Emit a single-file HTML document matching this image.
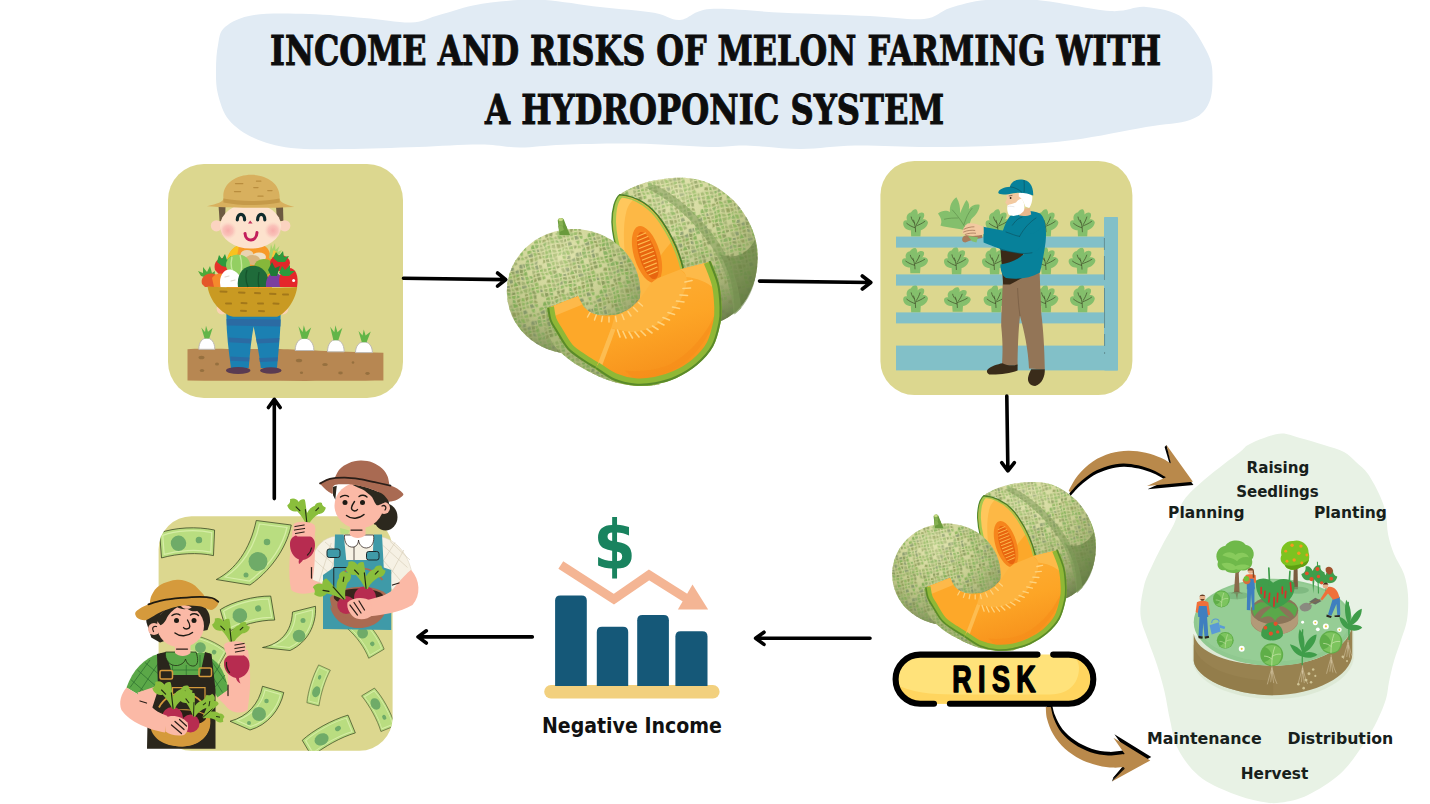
<!DOCTYPE html>
<html lang="en">
<head>
<meta charset="utf-8">
<title>Income and Risks of Melon Farming with a Hydroponic System</title>
<style>
html,body{margin:0;padding:0;background:#fff;}
body{width:1430px;height:804px;overflow:hidden;position:relative;font-family:"Liberation Sans",sans-serif;}
svg{position:absolute;left:0;top:0;display:block;}
.title{font-family:"DejaVu Serif Condensed","DejaVu Serif","Liberation Serif",serif;font-weight:bold;font-size:41px;fill:#0d0d0d;stroke:#0d0d0d;stroke-width:0.9px;}
.lbl{font-family:"DejaVu Sans Condensed","DejaVu Sans","Liberation Sans",sans-serif;font-weight:bold;fill:#1a1a1a;}
</style>
</head>
<body>
<svg width="1430" height="804" viewBox="0 0 1430 804">
<defs>
<pattern id="net" width="231" height="231" patternUnits="userSpaceOnUse" patternTransform="rotate(-12)"><path d="M1.1 -0.5 L11.6 2.5 L14.8 12.5 L3.4 10.4Z" fill="#93b862"/><path d="M3.8 15.1 L15.3 17.2 L14.7 26.7 L3.0 28.8Z" fill="#8ab55a"/><path d="M-1.9 51.4 L10.3 49.2 L14.9 63.0 L-2.0 63.1Z" fill="#9ab368"/><path d="M-1.1 67.9 L14.2 67.9 L11.8 79.9 L-0.9 76.6Z" fill="#9ab368"/><path d="M-1.9 81.0 L12.8 84.9 L13.9 95.5 L0.8 99.6Z" fill="#879a5a"/><path d="M1.5 103.6 L13.8 99.7 L16.4 114.8 L-0.7 111.3Z" fill="#8ab55a"/><path d="M-0.5 116.2 L16.1 119.6 L12.2 130.5 L3.1 133.1Z" fill="#86b060"/><path d="M3.8 138.5 L11.9 136.2 L13.7 148.7 L3.4 145.6Z" fill="#84986a"/><path d="M2.7 149.2 L15.4 153.0 L17.1 161.4 L5.9 159.5Z" fill="#8e9e58"/><path d="M7.4 163.9 L16.4 165.4 L18.0 175.0 L6.6 176.1Z" fill="#8e9e58"/><path d="M-0.8 197.9 L12.7 202.4 L10.9 212.1 L0.4 214.4Z" fill="#a0b070"/><path d="M0.0 219.0 L11.1 216.5 L11.4 229.5 L0.1 226.3Z" fill="#8ab55a"/><path d="M0.0 -12.0 L11.1 -14.5 L11.4 -1.5 L0.1 -4.7Z" fill="#8ab55a"/><path d="M16.9 3.6 L26.8 4.1 L31.6 14.3 L19.9 13.0Z" fill="#93b862"/><path d="M19.9 32.4 L32.6 34.0 L31.5 46.4 L16.8 43.9Z" fill="#8e9e58"/><path d="M16.5 50.2 L31.4 52.7 L30.7 62.6 L20.6 62.4Z" fill="#93b862"/><path d="M20.2 67.8 L31.8 68.0 L33.7 84.0 L17.5 81.3Z" fill="#8cb860"/><path d="M17.7 85.9 L33.0 88.4 L30.4 98.1 L18.7 95.5Z" fill="#86b060"/><path d="M18.8 100.7 L29.9 103.2 L27.1 114.4 L21.0 114.4Z" fill="#93b862"/><path d="M21.1 120.6 L27.0 120.6 L30.8 133.1 L17.5 130.4Z" fill="#a0b070"/><path d="M16.9 135.2 L32.1 138.3 L33.4 145.2 L19.0 149.6Z" fill="#a0b070"/><path d="M19.8 153.9 L32.7 150.0 L29.8 163.4 L21.2 160.9Z" fill="#a0b070"/><path d="M20.5 165.4 L30.0 168.1 L27.4 178.7 L22.3 176.2Z" fill="#8ab55a"/><path d="M21.9 180.1 L27.2 182.8 L28.3 192.9 L17.5 197.8Z" fill="#8e9e58"/><path d="M15.0 216.9 L26.6 218.9 L26.4 230.4 L15.2 229.8Z" fill="#9ab368"/><path d="M15.0 -14.1 L26.6 -12.1 L26.4 -0.6 L15.2 -1.2Z" fill="#9ab368"/><path d="M30.9 3.4 L44.4 0.1 L46.4 17.7 L36.5 15.4Z" fill="#8ab55a"/><path d="M37.2 19.3 L46.6 21.5 L44.3 30.6 L38.0 29.6Z" fill="#86b060"/><path d="M38.3 34.5 L44.2 35.5 L47.4 49.7 L37.1 47.7Z" fill="#7fae55"/><path d="M36.9 52.7 L48.3 54.9 L50.3 67.3 L36.0 64.2Z" fill="#a0b070"/><path d="M36.8 69.1 L49.2 71.8 L45.6 79.7 L38.5 83.1Z" fill="#86b060"/><path d="M35.3 103.1 L45.8 104.6 L49.9 110.8 L32.5 114.6Z" fill="#8e9e58"/><path d="M32.6 119.6 L49.8 115.9 L44.5 127.6 L36.5 132.7Z" fill="#86b060"/><path d="M36.3 137.9 L44.8 132.4 L45.2 146.1 L37.5 144.6Z" fill="#86b060"/><path d="M37.3 148.4 L45.7 150.0 L48.4 161.2 L33.9 164.4Z" fill="#8ab55a"/><path d="M33.7 168.3 L47.4 165.3 L43.0 178.6 L31.0 178.9Z" fill="#7fae55"/><path d="M30.7 183.1 L42.7 182.8 L45.4 196.0 L31.8 192.7Z" fill="#879a5a"/><path d="M32.4 197.4 L46.1 200.7 L50.4 213.9 L31.6 214.4Z" fill="#86b060"/><path d="M32.3 219.5 L48.8 219.0 L43.5 226.8 L32.2 229.5Z" fill="#7fae55"/><path d="M32.3 -11.5 L48.8 -12.0 L43.5 -4.2 L32.2 -1.5Z" fill="#7fae55"/><path d="M48.6 0.0 L63.9 2.8 L65.1 11.0 L50.6 17.1Z" fill="#879a5a"/><path d="M50.7 21.4 L65.3 15.3 L67.0 33.2 L48.4 30.7Z" fill="#86b060"/><path d="M49.1 35.6 L66.8 38.0 L66.6 49.9 L52.5 50.5Z" fill="#a0b070"/><path d="M53.1 55.6 L66.3 55.0 L63.1 63.4 L54.9 66.5Z" fill="#86b060"/><path d="M54.1 71.6 L62.0 68.6 L60.1 80.7 L50.7 79.3Z" fill="#a0b070"/><path d="M48.8 83.5 L60.5 85.3 L60.2 93.9 L49.5 100.4Z" fill="#879a5a"/><path d="M50.7 103.6 L60.2 97.9 L61.2 110.1 L54.9 110.0Z" fill="#8e9e58"/><path d="M55.1 114.9 L61.0 114.9 L61.8 125.0 L50.0 126.2Z" fill="#a0b070"/><path d="M48.9 131.9 L61.3 130.7 L59.0 142.6 L49.3 144.9Z" fill="#8cb860"/><path d="M48.7 149.8 L59.6 147.3 L60.4 161.6 L51.5 160.9Z" fill="#7fae55"/><path d="M51.4 165.2 L60.2 166.0 L59.6 182.2 L47.0 178.8Z" fill="#86b060"/><path d="M47.7 183.4 L59.5 186.6 L63.6 193.1 L50.3 196.0Z" fill="#86b060"/><path d="M50.7 200.4 L64.9 197.3 L62.2 211.1 L55.1 213.7Z" fill="#93b862"/><path d="M55.0 218.2 L61.7 215.8 L63.6 229.3 L49.2 226.7Z" fill="#7fae55"/><path d="M55.0 -12.8 L61.7 -15.2 L63.6 -1.7 L49.2 -4.3Z" fill="#7fae55"/><path d="M69.9 15.3 L83.7 22.4 L80.8 31.1 L71.6 33.3Z" fill="#7fae55"/><path d="M71.1 37.0 L80.7 34.7 L77.7 44.7 L70.9 50.2Z" fill="#8ab55a"/><path d="M70.6 53.4 L77.3 47.9 L79.3 62.1 L66.8 63.2Z" fill="#84986a"/><path d="M67.9 67.8 L78.3 66.9 L81.5 76.9 L66.0 80.0Z" fill="#8cb860"/><path d="M65.4 86.1 L80.9 83.0 L75.7 98.9 L65.2 93.1Z" fill="#879a5a"/><path d="M63.8 97.1 L76.3 104.0 L80.2 110.5 L64.9 110.7Z" fill="#8ab55a"/><path d="M65.4 113.8 L80.6 113.7 L80.8 125.6 L66.4 125.8Z" fill="#93b862"/><path d="M67.1 131.0 L79.7 130.8 L79.6 148.5 L64.8 142.9Z" fill="#a0b070"/><path d="M64.7 148.8 L79.7 154.5 L82.1 163.9 L65.4 161.7Z" fill="#9ab368"/><path d="M64.3 165.9 L83.1 168.5 L78.4 178.8 L63.7 182.8Z" fill="#9ab368"/><path d="M63.5 186.3 L78.4 182.3 L77.6 198.5 L68.2 193.6Z" fill="#a0b070"/><path d="M69.1 198.4 L77.2 202.6 L79.7 213.7 L66.7 210.8Z" fill="#9ab368"/><path d="M66.4 215.7 L80.1 218.8 L78.9 225.8 L68.2 229.4Z" fill="#879a5a"/><path d="M66.4 -15.3 L80.1 -12.2 L78.9 -5.2 L68.2 -1.6Z" fill="#879a5a"/><path d="M84.1 -0.1 L95.7 0.6 L99.2 17.9 L87.6 17.9Z" fill="#a0b070"/><path d="M88.4 23.6 L99.1 23.6 L99.4 33.3 L85.9 31.2Z" fill="#84986a"/><path d="M85.0 35.6 L99.0 37.8 L98.8 48.6 L82.4 44.3Z" fill="#879a5a"/><path d="M81.6 48.9 L98.4 53.3 L94.3 63.4 L83.4 61.6Z" fill="#86b060"/><path d="M83.4 65.8 L94.6 67.7 L95.5 76.1 L87.0 77.1Z" fill="#93b862"/><path d="M80.6 104.6 L92.5 99.8 L94.1 114.6 L84.2 110.7Z" fill="#a0b070"/><path d="M85.6 115.2 L94.9 118.9 L99.6 128.4 L85.7 125.6Z" fill="#86b060"/><path d="M85.9 131.4 L100.5 134.4 L100.4 149.9 L85.8 149.8Z" fill="#8e9e58"/><path d="M86.6 155.4 L100.1 155.4 L100.2 162.2 L88.8 164.3Z" fill="#7fae55"/><path d="M87.8 168.6 L99.8 166.3 L94.8 176.8 L83.6 177.8Z" fill="#8cb860"/><path d="M81.5 202.3 L94.6 197.9 L97.9 216.2 L84.3 215.2Z" fill="#a0b070"/><path d="M85.3 219.1 L97.0 219.9 L95.0 226.5 L84.2 225.8Z" fill="#8ab55a"/><path d="M85.3 -11.9 L97.0 -11.1 L95.0 -4.5 L84.2 -5.2Z" fill="#8ab55a"/><path d="M100.5 0.7 L116.1 2.5 L114.7 16.7 L104.0 18.0Z" fill="#84986a"/><path d="M104.2 23.6 L114.0 22.3 L110.3 32.3 L104.5 33.3Z" fill="#8e9e58"/><path d="M104.7 38.7 L110.5 37.8 L115.9 49.4 L104.5 49.1Z" fill="#9ab368"/><path d="M104.2 54.0 L116.5 54.3 L115.3 63.8 L100.0 64.1Z" fill="#879a5a"/><path d="M98.5 67.9 L115.3 67.6 L110.9 82.8 L99.5 76.9Z" fill="#8ab55a"/><path d="M99.9 82.1 L109.6 87.1 L110.7 98.1 L97.7 94.7Z" fill="#86b060"/><path d="M96.7 99.0 L112.3 103.2 L117.3 113.1 L98.6 115.4Z" fill="#7fae55"/><path d="M100.2 119.7 L116.8 117.6 L112.8 133.0 L105.1 129.5Z" fill="#a0b070"/><path d="M105.0 133.7 L113.5 137.6 L116.0 144.4 L104.8 150.8Z" fill="#8e9e58"/><path d="M104.7 154.0 L115.7 147.7 L111.1 160.2 L104.9 161.8Z" fill="#93b862"/><path d="M104.7 166.0 L110.7 164.4 L116.3 181.1 L99.4 176.9Z" fill="#86b060"/><path d="M99.6 182.6 L114.8 186.4 L109.9 197.3 L99.4 193.3Z" fill="#8ab55a"/><path d="M98.6 198.0 L110.8 202.8 L117.2 214.1 L101.9 216.0Z" fill="#8ab55a"/><path d="M102.5 219.8 L117.4 218.0 L116.4 228.9 L100.3 227.0Z" fill="#93b862"/><path d="M102.5 -11.2 L117.4 -13.0 L116.4 -2.1 L100.3 -4.0Z" fill="#93b862"/><path d="M120.1 1.9 L128.7 2.4 L127.1 10.7 L118.8 16.5Z" fill="#9ab368"/><path d="M118.6 20.9 L127.1 15.0 L133.4 32.2 L114.3 32.2Z" fill="#7fae55"/><path d="M115.6 37.5 L133.1 37.4 L130.0 50.7 L121.3 49.7Z" fill="#8e9e58"/><path d="M121.3 54.7 L130.2 55.8 L129.5 66.9 L120.2 64.2Z" fill="#8cb860"/><path d="M120.2 69.1 L128.8 71.7 L131.3 78.0 L116.6 81.7Z" fill="#86b060"/><path d="M115.6 87.2 L131.3 83.2 L127.4 95.1 L116.6 98.5Z" fill="#8e9e58"/><path d="M116.5 103.6 L127.7 99.9 L127.7 113.8 L121.1 112.5Z" fill="#8e9e58"/><path d="M121.4 118.1 L127.3 119.3 L127.4 128.9 L117.7 132.3Z" fill="#879a5a"/><path d="M117.3 138.2 L127.1 134.8 L126.3 148.7 L119.4 143.9Z" fill="#9ab368"/><path d="M119.3 148.9 L126.2 153.8 L127.6 161.6 L115.4 159.6Z" fill="#9ab368"/><path d="M114.3 164.2 L129.1 166.6 L130.9 183.1 L120.4 182.3Z" fill="#8ab55a"/><path d="M120.6 186.8 L130.6 187.5 L129.4 200.0 L114.9 199.3Z" fill="#84986a"/><path d="M114.9 203.1 L129.4 203.8 L130.0 213.3 L121.2 214.2Z" fill="#879a5a"/><path d="M121.5 217.8 L130.4 216.9 L129.3 229.5 L120.5 229.0Z" fill="#8e9e58"/><path d="M121.5 -13.2 L130.4 -14.1 L129.3 -1.5 L120.5 -2.0Z" fill="#8e9e58"/><path d="M132.9 1.8 L146.0 -2.0 L145.4 11.0 L131.3 9.8Z" fill="#8e9e58"/><path d="M131.8 15.6 L145.1 16.7 L142.1 32.1 L137.5 31.1Z" fill="#879a5a"/><path d="M137.6 37.5 L142.1 38.5 L143.2 47.2 L134.7 50.3Z" fill="#8cb860"/><path d="M134.8 55.8 L143.5 52.7 L147.2 64.3 L134.2 66.5Z" fill="#9ab368"/><path d="M136.6 82.4 L145.0 84.7 L146.7 98.8 L132.3 95.2Z" fill="#8ab55a"/><path d="M132.3 100.5 L145.5 103.8 L142.5 113.4 L132.3 113.6Z" fill="#93b862"/><path d="M131.7 118.4 L142.5 118.2 L143.5 127.9 L131.9 128.9Z" fill="#93b862"/><path d="M132.3 134.0 L143.8 133.0 L147.5 146.2 L131.4 149.0Z" fill="#84986a"/><path d="M131.1 154.0 L148.4 150.9 L146.9 165.4 L132.8 163.1Z" fill="#93b862"/><path d="M133.8 167.7 L146.7 169.8 L149.1 179.0 L135.4 182.2Z" fill="#a0b070"/><path d="M133.5 203.6 L147.3 200.5 L146.5 214.3 L134.1 213.1Z" fill="#84986a"/><path d="M133.6 216.3 L146.9 217.6 L147.0 225.4 L132.4 229.6Z" fill="#7fae55"/><path d="M133.6 -14.7 L146.9 -13.4 L147.0 -5.6 L132.4 -1.4Z" fill="#7fae55"/><path d="M151.5 -0.4 L161.6 2.9 L161.8 16.1 L151.0 11.2Z" fill="#84986a"/><path d="M150.2 17.3 L162.2 22.6 L163.7 33.8 L147.1 33.3Z" fill="#a0b070"/><path d="M146.2 37.3 L164.8 37.9 L166.7 46.1 L147.5 47.8Z" fill="#84986a"/><path d="M148.2 51.4 L166.7 49.8 L163.7 67.6 L152.4 64.6Z" fill="#9ab368"/><path d="M153.2 69.4 L162.9 71.9 L164.8 77.4 L150.6 79.9Z" fill="#8e9e58"/><path d="M149.6 85.0 L164.8 82.4 L159.8 96.0 L151.2 98.4Z" fill="#8e9e58"/><path d="M150.5 103.5 L159.0 101.2 L158.6 111.2 L147.4 113.4Z" fill="#86b060"/><path d="M147.6 118.6 L158.0 116.5 L158.0 129.9 L148.5 127.4Z" fill="#9ab368"/><path d="M153.4 152.2 L164.2 154.7 L160.1 164.3 L152.0 164.6Z" fill="#879a5a"/><path d="M154.4 183.3 L164.7 181.1 L166.4 199.3 L152.2 195.9Z" fill="#84986a"/><path d="M151.2 200.3 L166.4 204.0 L161.2 217.0 L150.4 214.9Z" fill="#879a5a"/><path d="M150.4 218.1 L160.7 220.0 L162.5 229.4 L150.5 225.5Z" fill="#879a5a"/><path d="M150.4 -12.9 L160.7 -11.0 L162.5 -1.6 L150.5 -5.5Z" fill="#879a5a"/><path d="M167.5 3.4 L178.5 3.1 L182.5 16.8 L167.7 17.6Z" fill="#8cb860"/><path d="M166.8 22.3 L183.8 21.5 L177.3 31.3 L168.5 34.8Z" fill="#7fae55"/><path d="M169.5 38.3 L176.7 35.4 L178.9 45.4 L171.1 44.9Z" fill="#86b060"/><path d="M170.5 49.6 L179.7 50.2 L177.3 62.5 L167.6 67.2Z" fill="#9ab368"/><path d="M167.6 71.0 L177.4 66.2 L181.5 76.6 L169.7 77.5Z" fill="#86b060"/><path d="M170.2 82.1 L180.4 81.3 L179.3 95.0 L165.5 95.0Z" fill="#8ab55a"/><path d="M163.3 100.2 L179.3 100.1 L175.2 112.0 L162.9 111.3Z" fill="#93b862"/><path d="M163.2 115.6 L175.0 116.3 L179.4 129.8 L163.2 130.9Z" fill="#84986a"/><path d="M164.0 136.3 L179.7 135.2 L175.7 150.4 L169.1 149.7Z" fill="#8cb860"/><path d="M169.5 155.3 L175.6 155.9 L180.3 166.6 L165.4 164.9Z" fill="#93b862"/><path d="M168.7 182.3 L175.7 183.0 L175.3 197.0 L170.1 198.2Z" fill="#84986a"/><path d="M169.8 204.6 L175.2 203.3 L176.7 210.0 L165.4 215.4Z" fill="#7fae55"/><path d="M164.1 219.8 L177.7 213.3 L178.7 229.3 L166.0 229.7Z" fill="#7fae55"/><path d="M164.1 -11.2 L177.7 -17.7 L178.7 -1.7 L166.0 -1.3Z" fill="#7fae55"/><path d="M184.0 3.0 L195.3 5.9 L198.0 12.6 L188.0 16.4Z" fill="#86b060"/><path d="M187.6 21.8 L197.5 18.0 L193.0 33.4 L182.1 30.2Z" fill="#86b060"/><path d="M180.8 34.9 L192.9 38.5 L196.0 49.1 L183.4 46.4Z" fill="#a0b070"/><path d="M183.1 49.8 L196.3 52.6 L192.6 60.4 L180.6 62.4Z" fill="#7fae55"/><path d="M180.9 65.9 L192.7 63.9 L197.3 79.3 L185.0 76.2Z" fill="#879a5a"/><path d="M185.4 81.1 L197.2 84.1 L192.7 99.9 L184.1 96.2Z" fill="#879a5a"/><path d="M184.0 101.7 L191.8 105.1 L195.6 115.2 L180.4 112.1Z" fill="#8e9e58"/><path d="M180.4 117.4 L195.7 120.6 L192.0 132.2 L184.5 129.8Z" fill="#8cb860"/><path d="M180.7 155.4 L191.9 154.5 L194.5 162.2 L185.6 166.5Z" fill="#a0b070"/><path d="M186.0 171.3 L194.9 167.0 L195.6 182.1 L181.4 177.7Z" fill="#86b060"/><path d="M179.5 181.3 L196.2 186.6 L194.0 193.4 L179.0 198.6Z" fill="#86b060"/><path d="M179.2 201.6 L193.9 196.5 L195.9 210.3 L181.0 209.4Z" fill="#86b060"/><path d="M199.6 5.0 L208.8 -0.1 L208.4 11.5 L202.3 11.9Z" fill="#8e9e58"/><path d="M202.1 16.7 L208.6 16.3 L210.5 29.2 L197.2 33.7Z" fill="#8e9e58"/><path d="M196.9 38.2 L211.2 33.3 L214.7 46.2 L200.2 49.5Z" fill="#93b862"/><path d="M200.8 52.7 L213.9 49.8 L212.1 60.8 L197.4 59.9Z" fill="#8ab55a"/><path d="M197.8 64.8 L211.3 65.6 L210.3 75.4 L201.7 78.0Z" fill="#8cb860"/><path d="M196.4 136.9 L209.7 134.0 L215.3 143.7 L196.3 149.4Z" fill="#8ab55a"/><path d="M196.7 153.0 L216.1 147.2 L215.2 162.4 L199.7 161.7Z" fill="#84986a"/><path d="M200.7 167.1 L214.2 167.7 L212.0 181.5 L201.3 182.1Z" fill="#8e9e58"/><path d="M201.0 187.5 L211.3 186.9 L210.6 195.5 L199.2 193.0Z" fill="#86b060"/><path d="M199.3 198.4 L210.8 200.8 L212.7 214.6 L201.0 209.8Z" fill="#9ab368"/><path d="M200.1 214.8 L213.6 220.4 L209.3 226.6 L199.4 232.2Z" fill="#a0b070"/><path d="M200.1 -16.2 L213.6 -10.6 L209.3 -4.4 L199.4 1.2Z" fill="#a0b070"/><path d="M214.0 -0.6 L226.2 -0.7 L228.4 9.6 L213.7 10.5Z" fill="#879a5a"/><path d="M-17.0 -0.6 L-4.8 -0.7 L-2.6 9.6 L-17.3 10.5Z" fill="#879a5a"/><path d="M213.4 16.0 L229.3 15.1 L228.5 28.8 L215.3 28.4Z" fill="#879a5a"/><path d="M-17.6 16.0 L-1.7 15.1 L-2.5 28.8 L-15.7 28.4Z" fill="#879a5a"/><path d="M218.1 49.5 L225.3 51.2 L225.1 63.2 L216.1 61.2Z" fill="#9ab368"/><path d="M-12.9 49.5 L-5.7 51.2 L-5.9 63.2 L-14.9 61.2Z" fill="#9ab368"/><path d="M216.2 65.2 L224.5 67.0 L224.8 76.2 L215.1 75.7Z" fill="#84986a"/><path d="M-14.8 65.2 L-6.5 67.0 L-6.2 76.2 L-15.9 75.7Z" fill="#84986a"/><path d="M214.9 80.4 L225.1 80.9 L227.7 98.6 L214.2 92.6Z" fill="#9ab368"/><path d="M-16.1 80.4 L-5.9 80.9 L-3.3 98.6 L-16.8 92.6Z" fill="#9ab368"/><path d="M217.9 117.8 L226.1 115.2 L230.0 133.8 L213.7 130.1Z" fill="#7fae55"/><path d="M-13.1 117.8 L-4.9 115.2 L-1.0 133.8 L-17.3 130.1Z" fill="#7fae55"/><path d="M215.0 134.2 L229.7 137.5 L229.4 145.3 L220.2 143.2Z" fill="#86b060"/><path d="M-16.0 134.2 L-1.3 137.5 L-1.6 145.3 L-10.8 143.2Z" fill="#86b060"/><path d="M220.5 146.8 L230.4 149.1 L233.5 159.0 L219.7 161.9Z" fill="#8ab55a"/><path d="M-10.5 146.8 L-0.6 149.1 L2.5 159.0 L-11.3 161.9Z" fill="#8ab55a"/><path d="M219.8 166.5 L233.0 163.7 L232.1 177.5 L217.5 181.4Z" fill="#9ab368"/><path d="M-11.2 166.5 L2.0 163.7 L1.1 177.5 L-13.5 181.4Z" fill="#9ab368"/><path d="M217.2 186.3 L230.4 182.8 L225.7 192.4 L216.6 195.0Z" fill="#84986a"/><path d="M-13.8 186.3 L-0.6 182.8 L-5.3 192.4 L-14.4 195.0Z" fill="#84986a"/><path d="M215.4 200.3 L226.0 197.4 L227.3 215.2 L217.6 216.4Z" fill="#84986a"/><path d="M-15.6 200.3 L-5.0 197.4 L-3.7 215.2 L-13.4 216.4Z" fill="#84986a"/><path d="M217.9 220.5 L226.6 219.3 L226.7 226.1 L214.0 226.2Z" fill="#7fae55"/><path d="M-13.1 220.5 L-4.4 219.3 L-4.3 226.1 L-17.0 226.2Z" fill="#7fae55"/><path d="M217.9 -10.5 L226.6 -11.7 L226.7 -4.9 L214.0 -4.8Z" fill="#7fae55"/><path d="M-13.1 -10.5 L-4.4 -11.7 L-4.3 -4.9 L-17.0 -4.8Z" fill="#7fae55"/></pattern><radialGradient id="mbl" cx="0.4" cy="0.2" r="0.85">
<stop offset="0" stop-color="#dfe2ac"/><stop offset="0.45" stop-color="#cdd396"/><stop offset="0.8" stop-color="#b4bd80"/><stop offset="1" stop-color="#9aa56c"/>
</radialGradient>
<radialGradient id="mwl" cx="0.4" cy="0.22" r="0.85">
<stop offset="0" stop-color="#e3e6b2" stop-opacity="0.45"/><stop offset="0.3" stop-color="#d8dca8" stop-opacity="0.1"/><stop offset="0.6" stop-color="#8a9862" stop-opacity="0.12"/><stop offset="1" stop-color="#66784a" stop-opacity="0.7"/>
</radialGradient>
<radialGradient id="mbr" cx="0.4" cy="0.1" r="0.95">
<stop offset="0" stop-color="#dfe2ac"/><stop offset="0.45" stop-color="#cdd396"/><stop offset="0.8" stop-color="#b0b97c"/><stop offset="1" stop-color="#949f66"/>
</radialGradient>
<radialGradient id="mwr" cx="0.4" cy="0.1" r="0.95">
<stop offset="0" stop-color="#e3e6b2" stop-opacity="0.45"/><stop offset="0.35" stop-color="#d8dca8" stop-opacity="0.1"/><stop offset="0.7" stop-color="#8a9862" stop-opacity="0.25"/><stop offset="1" stop-color="#5f7244" stop-opacity="0.75"/>
</radialGradient>
<linearGradient id="fleshB" x1="0" y1="0" x2="0.3" y2="1">
<stop offset="0" stop-color="#fdb13a"/><stop offset="0.6" stop-color="#fda526"/><stop offset="1" stop-color="#f7921c"/>
</linearGradient>
<g id="melon">
<!-- big cut melon -->
<path d="M640 90 C670 66 740 38 800 30 C850 22 900 20 950 30 C1010 44 1060 80 1100 120 C1150 175 1180 240 1188 300 C1196 370 1185 430 1160 480 C1130 545 1085 580 1035 600 L880 600 L880 385 C870 300 800 170 700 100 Z" fill="url(#mbr)"/>
<path id="bigm" d="M640 90 C670 66 740 38 800 30 C850 22 900 20 950 30 C1010 44 1060 80 1100 120 C1150 175 1180 240 1188 300 C1196 370 1185 430 1160 480 C1130 545 1085 580 1035 600 L880 600 L880 385 C870 300 800 170 700 100 Z" fill="url(#net)"/>
<path d="M640 90 C670 66 740 38 800 30 C850 22 900 20 950 30 C1010 44 1060 80 1100 120 C1150 175 1180 240 1188 300 C1196 370 1185 430 1160 480 C1130 545 1085 580 1035 600 L880 600 L880 385 C870 300 800 170 700 100 Z" fill="url(#mwr)"/>
<path d="M1040 330 C1080 400 1100 480 1098 570 C1130 545 1160 500 1175 450 C1192 390 1192 330 1180 270 C1150 330 1100 350 1040 330 Z" fill="#5f7a3e" opacity="0.55"/>
<path d="M740 62 C830 100 930 190 1000 290 C1050 360 1085 450 1095 570 L1125 545 C1115 440 1080 350 1030 275 C960 175 860 85 775 50 Z" fill="#7f9a5a" opacity="0.55"/>
<!-- cut face -->
<path d="M640 90 C620 105 608 150 608 200 C610 260 630 330 660 400 C680 450 700 500 740 540 L800 540 L893 385 C880 330 850 260 810 200 C770 140 710 96 640 90 Z" fill="#fdb845"/>
<path d="M640 100 C626 120 618 160 620 205 C624 260 640 320 665 370 C655 300 650 220 665 160 C672 130 690 112 700 106 C680 98 655 96 640 100 Z" fill="#ffcb62" opacity="0.8"/>
<path d="M790 520 L893 385 C885 350 870 310 850 275 C830 300 800 330 790 360 C780 420 780 470 790 520 Z" fill="#fca82a"/>
<path d="M646 96 C628 110 618 150 618 200 C620 260 638 330 668 400" fill="none" stroke="#a4c84e" stroke-width="12"/><path d="M640 90 C620 105 608 150 608 200 C610 260 630 330 660 400" fill="none" stroke="#4f8a2c" stroke-width="6"/>
<path d="M640 98 C706 104 764 146 802 204 C842 264 872 332 885 389" fill="none" stroke="#a4c84e" stroke-width="7"/><path d="M638 91 C710 96 770 140 810 200 C850 260 880 330 893 387" fill="none" stroke="#4a7f28" stroke-width="7"/>
<!-- seed cavity -->
<g transform="rotate(-17 748 330)">
<ellipse cx="748" cy="330" rx="52" ry="118" fill="#f6851c"/>
<ellipse cx="750" cy="335" rx="34" ry="98" fill="#e8650f"/>
<g stroke="#fdbb4e" stroke-width="4.5" stroke-linecap="round">
<path d="M732 250 L768 246"/><path d="M728 266 L772 262"/><path d="M726 282 L774 278"/><path d="M725 298 L775 294"/><path d="M724 314 L776 310"/><path d="M724 330 L776 326"/><path d="M724 346 L776 342"/><path d="M725 362 L775 358"/><path d="M726 378 L774 374"/><path d="M728 394 L772 390"/><path d="M732 410 L768 406"/>
</g>
</g>
<!-- whole melon -->
<path d="M398 250 L391 194 C391 182 412 180 416 192 L438 250 Z" fill="#6a9a3c"/>
<path d="M395 196 C395 186 408 186 410 194 L416 232 L402 244 Z" fill="#86b152"/>
<ellipse cx="402.5" cy="190" rx="9.5" ry="6" fill="#c9dc86"/>
<ellipse cx="454" cy="478" rx="267" ry="250" fill="url(#mbl)"/>
<ellipse cx="454" cy="478" rx="267" ry="250" fill="url(#net)"/>
<ellipse cx="454" cy="478" rx="267" ry="250" fill="url(#mwl)"/>
<ellipse cx="420" cy="248" rx="40" ry="9" fill="#a9c47a" opacity="0.7"/>
<path d="M398 252 L394 215 L424 215 L440 252 Z" fill="#6a9a3c"/><path d="M397 240 L395 215 L410 215 L416 232 Z" fill="#86b152"/>
<!-- skin under slices -->
<path d="M346 556 C346.0 566.7 341.2 597.7 346 620 C350.8 642.3 361.0 669.2 375 690 C389.0 710.8 409.2 728.3 430 745 C450.8 761.7 475.0 776.2 500 790 C525.0 803.8 553.3 818.0 580 828 C606.7 838.0 633.3 845.3 660 850 C686.7 854.7 716.7 856.0 740 856 C763.3 856.0 790.0 851.0 800 850 L548 775 L362 540 Z" fill="#c3ca8c"/>
<path d="M346 556 C346.0 566.7 341.2 597.7 346 620 C350.8 642.3 361.0 669.2 375 690 C389.0 710.8 409.2 728.3 430 745 C450.8 761.7 475.0 776.2 500 790 C525.0 803.8 553.3 818.0 580 828 C606.7 838.0 633.3 845.3 660 850 C686.7 854.7 716.7 856.0 740 856 C763.3 856.0 790.0 851.0 800 850 L548 775 L362 540 Z" fill="url(#net)"/>
<path d="M346 556 C346.0 566.7 341.2 597.7 346 620 C350.8 642.3 361.0 669.2 375 690 C389.0 710.8 409.2 728.3 430 745 C450.8 761.7 475.0 776.2 500 790 C525.0 803.8 553.3 818.0 580 828 C606.7 838.0 633.3 845.3 660 850 C686.7 854.7 716.7 856.0 740 856 C763.3 856.0 790.0 851.0 800 850 L548 775 L362 540 Z" fill="#7f9656" opacity="0.35"/>
<!-- slices silhouette -->
<path d="M362 540 L472 497 C476.7 505.0 487.0 532.5 500 545 C513.0 557.5 530.0 567.5 550 572 C570.0 576.5 598.3 576.5 620 572 C641.7 567.5 662.5 557.0 680 545 C697.5 533.0 711.7 515.8 725 500 C738.3 484.2 749.2 462.5 760 450 C770.8 437.5 785.0 429.2 790 425 L880 390 L990 362 C995.3 376.7 1015.0 420.3 1022 450 C1029.0 479.7 1031.0 515.0 1032 540 C1033.0 565.0 1033.3 575.0 1028 600 C1022.7 625.0 1014.7 663.3 1000 690 C985.3 716.7 963.3 740.0 940 760 C916.7 780.0 886.7 797.5 860 810 C833.3 822.5 806.7 830.0 780 835 C753.3 840.0 726.7 842.5 700 840 C673.3 837.5 645.3 830.8 620 820 C594.7 809.2 560.0 782.5 548 775 C540.0 770.0 518.0 757.5 500 745 C482.0 732.5 457.5 719.2 440 700 C422.5 680.8 406.3 648.3 395 630 C383.7 611.7 377.5 605.0 372 590 C366.5 575.0 363.7 548.3 362 540 Z" fill="#fdb43f"/>
<!-- slice A front -->
<path d="M362 540 L472 497 C476.7 505.0 487.0 532.5 500 545 C513.0 557.5 530.0 567.5 550 572 C570.0 576.5 608.3 572.0 620 572 L605 625 L548 775 C540.0 770.0 518.0 757.5 500 745 C482.0 732.5 457.5 719.2 440 700 C422.5 680.8 406.3 648.3 395 630 C383.7 611.7 377.5 605.0 372 590 C366.5 575.0 363.7 548.3 362 540 Z" fill="#fda829"/>
<path d="M362 540 L472 497 C476 510 482 520 490 530 L380 575 C372 560 366 550 362 540 Z" fill="#fdb94a"/>
<g stroke="#ffd684" stroke-width="6" stroke-linecap="round" opacity="0.95">
<path d="M520 562 L510 580"/><path d="M545 572 L538 592"/><path d="M570 578 L566 598"/><path d="M596 580 L596 600"/><path d="M622 578 L626 598"/><path d="M648 570 L656 590"/><path d="M672 558 L684 576"/><path d="M694 542 L710 558"/><path d="M714 522 L730 536"/>
</g>
<path d="M362 540 C363.7 548.3 366.5 575.0 372 590 C377.5 605.0 383.7 611.7 395 630 C406.3 648.3 422.5 680.8 440 700 C457.5 719.2 482.0 732.5 500 745 C518.0 757.5 540.0 770.0 548 775" fill="none" stroke="#8fb836" stroke-width="28"/>
<path d="M353 543 C354.7 551.5 357.3 578.5 363 594 C368.7 609.5 375.3 617.2 387 636 C398.7 654.8 415.0 687.3 433 707 C451.0 726.7 476.5 741.2 495 754 C513.5 766.8 535.8 779.0 544 784" fill="none" stroke="#5a8a2a" stroke-width="8"/>
<!-- slice B front face -->
<path d="M605 625 C620.8 627.5 669.2 642.5 700 640 C730.8 637.5 763.3 625.8 790 610 C816.7 594.2 841.7 568.3 860 545 C878.3 521.7 892.5 490.8 900 470 C907.5 449.2 908.3 433.3 905 420 C901.7 406.7 884.2 395.0 880 390 L990 362 C995.3 376.7 1015.0 420.3 1022 450 C1029.0 479.7 1031.0 515.0 1032 540 C1033.0 565.0 1033.3 575.0 1028 600 C1022.7 625.0 1014.7 663.3 1000 690 C985.3 716.7 963.3 740.0 940 760 C916.7 780.0 886.7 797.5 860 810 C833.3 822.5 806.7 830.0 780 835 C753.3 840.0 726.7 842.5 700 840 C673.3 837.5 645.3 830.8 620 820 C594.7 809.2 560.0 782.5 548 775 Z" fill="url(#fleshB)"/>
<path d="M905 420 C903 405 893 395 880 390 L990 362 C1005 395 1015 430 1020 470 C990 440 950 425 905 420 Z" fill="#fdbb4d" opacity="0.9"/>
<path d="M700 830 C800 830 900 780 960 700 C1000 650 1020 600 1024 560 C990 640 930 720 840 770 C780 795 720 800 660 795 Z" fill="#f68d1a" opacity="0.55"/>
<path d="M548 775 L605 625 L622 630 L566 781 Z" fill="#fdc057" opacity="0.9"/>
<g stroke="#ffd684" stroke-width="6.5" stroke-linecap="round" opacity="0.95">
<path d="M630 632 L640 660"/><path d="M652 638 L664 664"/><path d="M676 640 L690 664"/><path d="M700 640 L716 660"/><path d="M724 636 L742 654"/><path d="M748 628 L768 644"/><path d="M770 616 L792 630"/><path d="M792 600 L816 612"/><path d="M812 582 L838 592"/><path d="M832 562 L858 570"/><path d="M850 540 L878 546"/><path d="M866 516 L896 520"/><path d="M880 492 L910 494"/><path d="M892 466 L922 464"/><path d="M900 440 L928 434"/>
</g>
<path d="M990 362 C995.3 376.7 1015.0 420.3 1022 450 C1029.0 479.7 1031.0 515.0 1032 540 C1033.0 565.0 1033.3 575.0 1028 600 C1022.7 625.0 1014.7 663.3 1000 690 C985.3 716.7 963.3 740.0 940 760 C916.7 780.0 886.7 797.5 860 810 C833.3 822.5 806.7 830.0 780 835 C753.3 840.0 726.7 842.5 700 840 C673.3 837.5 645.3 830.8 620 820 C594.7 809.2 560.0 782.5 548 775" fill="none" stroke="#8fb836" stroke-width="30"/>
<path d="M998 356 C1003.7 371.3 1024.7 417.3 1032 448 C1039.3 478.7 1041.0 514.2 1042 540 C1043.0 565.8 1043.5 577.0 1038 603 C1032.5 629.0 1024.2 668.5 1009 696 C993.8 723.5 971.2 747.3 947 768 C922.8 788.7 891.7 807.2 864 820 C836.3 832.8 808.5 840.0 781 845 C753.5 850.0 726.3 852.5 699 850 C671.7 847.5 642.8 841.0 617 830 C591.2 819.0 556.2 791.7 544 784" fill="none" stroke="#5a8a2a" stroke-width="8"/>
</g>

</defs>
<!-- TITLE CLOUD -->
<g id="titlecloud">
<path d="M216 70 C216.0 61.8 216.5 52.2 218 45 C219.5 37.8 219.0 32.0 225 27 C231.0 22.0 240.0 17.2 254 15 C268.0 12.8 290.7 13.5 309 14 C327.3 14.5 347.0 16.6 364 18 C381.0 19.4 399.0 22.8 411 22.5 C423.0 22.2 425.7 18.8 436 16 C446.3 13.2 460.8 8.1 473 5.5 C485.2 2.9 497.0 1.6 509 0.7 C521.0 -0.2 529.8 -1.1 545 0 C560.2 1.1 581.8 4.9 600 7 C618.2 9.1 640.7 10.5 654 12.7 C667.3 14.9 670.7 20.6 680 20 C689.3 19.4 692.8 10.2 710 9 C727.2 7.8 756.3 11.5 783 12.7 C809.7 13.9 846.5 14.9 870 16 C893.5 17.1 910.7 20.3 924 19 C937.3 17.7 939.7 11.2 950 8 C960.3 4.8 971.5 1.3 986 0 C1000.5 -1.3 1016.3 -1.8 1037 0 C1057.7 1.8 1091.8 9.8 1110 11 C1128.2 12.2 1133.8 5.8 1146 7 C1158.2 8.2 1172.7 10.2 1183 18 C1193.3 25.8 1203.1 43.7 1208 54 C1212.9 64.3 1212.5 71.5 1212.5 80 C1212.5 88.5 1211.8 98.3 1208 105 C1204.2 111.7 1200.3 116.3 1190 120 C1179.7 123.7 1165.5 123.7 1146 127 C1126.5 130.3 1097.2 136.9 1073 140 C1048.8 143.1 1025.2 144.3 1001 145.5 C976.8 146.7 952.3 147.0 928 147 C903.7 147.0 876.2 145.2 855 145.5 C833.8 145.8 819.2 149.0 801 149 C782.8 149.0 761.2 145.8 746 145.5 C730.8 145.2 728.3 147.3 710 147 C691.7 146.7 660.5 144.0 636 143.6 C611.5 143.2 582.3 144.0 563 144.7 C543.7 145.3 533.8 147.5 520 147.5 C506.2 147.5 497.0 144.6 480 144.5 C463.0 144.4 440.5 146.2 418 147 C395.5 147.8 366.2 148.8 345 149 C323.8 149.2 306.2 149.8 291 148 C275.8 146.2 264.3 142.7 254 138 C243.7 133.3 235.0 127.2 229 120 C223.0 112.8 220.2 102.8 218 94.5 C215.8 86.2 216.0 78.2 216 70Z" fill="#e1ebf4"/>
<text class="title" x="270" y="64.5" textLength="891" lengthAdjust="spacingAndGlyphs">INCOME AND RISKS OF MELON FARMING WITH</text>
<text class="title" x="485" y="123.5" textLength="459" lengthAdjust="spacingAndGlyphs">A HYDROPONIC SYSTEM</text>
</g>
<!-- BOXES -->
<g id="boxes">
<rect x="168" y="164" width="235" height="234" rx="36" fill="#dcd78f"/>
<rect x="880.4" y="161" width="252" height="234" rx="34" fill="#dcd78f"/>
<rect x="158.6" y="516.3" width="234" height="234.4" rx="33" fill="#dcd78f"/>
</g>
<g id="farmer1">
<radialGradient id="cheek"><stop offset="0" stop-color="#f7a9a8" stop-opacity="0.95"/><stop offset="0.55" stop-color="#f8b4b0" stop-opacity="0.7"/><stop offset="1" stop-color="#fbd0c4" stop-opacity="0"/></radialGradient>
<!-- soil -->
<path d="M187.5 349.2 C200 348.2 240 349.5 280 349 C300 349.6 330 351.5 383.4 352.8 L383.4 380.6 C330 381.2 250 381 187.5 380.4 Z" fill="#b78752"/>
<g fill="#96703f">
<ellipse cx="201.5" cy="357.5" rx="3" ry="1.8"/><ellipse cx="217" cy="364" rx="2" ry="1.5"/><ellipse cx="202" cy="370.5" rx="2.2" ry="1.5"/>
<ellipse cx="299" cy="360.5" rx="3.2" ry="1.8"/><ellipse cx="325" cy="364.5" rx="2.8" ry="1.5"/><ellipse cx="301.5" cy="372.8" rx="1.6" ry="1.3"/>
<ellipse cx="340.5" cy="373" rx="2.3" ry="1.4"/><ellipse cx="353" cy="362.5" rx="1.3" ry="1.2"/><ellipse cx="367.5" cy="373.5" rx="2.2" ry="1.4"/>
</g>
<!-- radishes -->
<g>
<g id="rad">
<path d="M198.8 349.3 C198.8 342 202.5 338 206.8 338 C211 338 214.8 342 214.8 349.3 Z" fill="#fff" stroke="#bdb9b4" stroke-width="1"/>
<path d="M204.6 338.5 L201.3 327.5 L205 332 L206 325.8 L208 331.8 L212.6 328 L209.3 338.5 Z" fill="#62b548"/>
</g>
<g transform="translate(97.6 1)"><path d="M197.6 349.5 C197.6 341.5 202 337.2 206.8 337.2 C211.6 337.2 216.3 341.5 216.3 349.5 Z" fill="#fff" stroke="#bdb9b4" stroke-width="1"/>
<path d="M204.2 337.8 L200.8 325.3 L205 331 L206.2 324.2 L208.3 331 L213.6 326.6 L209.6 337.8 Z" fill="#62b548"/></g>
<g transform="translate(129 2.3)"><path d="M198.5 349.5 C198.5 341.5 202.5 337.4 206.8 337.4 C211 337.4 215.2 341.5 215.2 349.5 Z" fill="#fff" stroke="#bdb9b4" stroke-width="1"/>
<path d="M204.4 338 L201.2 324.5 L205.3 330 L206.4 323 L208.5 330 L213.4 325.4 L209.3 338 Z" fill="#62b548"/></g>
<g transform="translate(157.2 3.6)"><path d="M198.3 349 C198.3 342 202.4 338.2 206.8 338.2 C211 338.2 215.2 342 215.2 349 Z" fill="#fff" stroke="#bdb9b4" stroke-width="1"/>
<path d="M204.6 338.6 L201.3 327.5 L205.3 332 L206.6 326 L208.4 331.8 L213.6 328 L209.4 338.6 Z" fill="#62b548"/></g>
</g>
<!-- pants -->
<path d="M226.4 313.5 L280.6 313.5 C280.8 330 278.5 352 277 368 L260.8 368 C259 352 256 338 253.6 326.6 C251.5 338 250 352 248.7 368 L231 368 C228.5 350 226.2 332 226.4 313.5 Z" fill="#1b80b2"/>
<g fill="#2b6ba3">
<path d="M226.6 319 L280.6 319.6 L280.4 326.4 L226.9 325.6 Z"/>
<path d="M228.3 337.5 L251.3 338.8 L250.6 343.4 L228.8 342.2 Z"/><path d="M256.2 339 L279.3 338 L278.9 342.6 L257 343.6 Z"/>
<path d="M230.2 356.6 L249.4 357.6 L249.1 361.6 L230.6 360.8 Z"/><path d="M259.3 358 L277.8 357.2 L277.4 361.2 L259.8 362 Z"/>
</g>
<ellipse cx="238.2" cy="370.5" rx="12.2" ry="3.4" fill="#5a3b52"/>
<ellipse cx="270.8" cy="370.5" rx="10.8" ry="3.3" fill="#5a3b52"/>
<!-- shirt -->
<path d="M226.5 262 C228 252 234 246 240 245 L262 245 C267 246 270 250 272 262 L272 290 L226.5 290 Z" fill="#f79a28"/>
<path d="M226.5 262 C228 252 234 246 239 245.5 L236 262 Z" fill="#f9c21f"/>
<!-- face -->
<path d="M218.6 206.5 L225.5 206.5 L225 221 L219.6 221 Z" fill="#6d5a41"/>
<path d="M276 206.5 L283 206.5 L283.4 221 L277 221 Z" fill="#6d5a41"/>
<circle cx="216.4" cy="225.8" r="5.6" fill="#fbd3c0"/>
<circle cx="284.8" cy="225.8" r="5.6" fill="#fbd3c0"/>
<ellipse cx="250.6" cy="226" rx="30.5" ry="22.6" fill="#fde2cd"/>
<circle cx="228" cy="230.5" r="9" fill="url(#cheek)"/>
<circle cx="273" cy="230.5" r="9" fill="url(#cheek)"/>
<path d="M237.3 219.8 C237.3 212.5 244.6 212.5 244.6 219.8" fill="none" stroke="#0f2b2c" stroke-width="3.2" stroke-linecap="round"/>
<path d="M257.6 219.8 C257.6 212.5 264.8 212.5 264.8 219.8" fill="none" stroke="#0f2b2c" stroke-width="3.2" stroke-linecap="round"/>
<path d="M248 223.6 L252.6 223.6 L250.2 220.6 Z" fill="#c2355e"/>
<path d="M245 233.4 C245.6 242.4 256.4 242.4 257 232.6" fill="none" stroke="#c21f5c" stroke-width="3" stroke-linecap="round"/>
<!-- hat -->
<path d="M207 206.2 C218 203.6 224 201.6 223.4 198 C222 184 236 174.8 251.4 174.8 C267 174.8 280.6 184 279.6 198 C279.2 201.6 284 203.8 294.4 207 C270 208.4 232 208 207 206.2 Z" fill="#d8b05e"/>
<path d="M223.4 198.6 C240 201.8 263 201.8 279.6 198.6 L279.8 202.4 C263 205.8 240 205.8 223.4 202.4 Z" fill="#c59a49"/>
<g stroke="#b98d3e" stroke-width="1.3" stroke-linecap="round">
<path d="M235.5 183.6 L242.8 183.6"/><path d="M256.5 181.2 L260.8 181.2"/><path d="M234.5 191.6 L240.6 191.6"/><path d="M253.8 187.6 L258 187.6"/><path d="M267.8 190.6 L272 190.6"/><path d="M258 196.2 L263 196.2"/>
</g>
<!-- veggies -->
<g id="veg">
<path d="M269 258 L271 244 L272.5 249 L275 243 L275.5 250 L279.5 246 L277.5 252 L282 250 L275 262 Z" fill="#a9d36a"/>
<path d="M270.5 262 L273.5 250 L277 252 L275 264 Z" fill="#f7c63c"/>
<ellipse cx="247" cy="254.5" rx="6.5" ry="4.6" fill="#e9d3b0"/><ellipse cx="259" cy="257" rx="7" ry="4.6" fill="#efe0c4"/><ellipse cx="252.5" cy="260" rx="7.5" ry="5" fill="#d9b57e"/>
<path d="M215 270 C213 262 218 258 224 258 L232 270 L228 284 Z" fill="#e5312a"/>
<path d="M217 262 L219 255 L222 259 L225 254 L227 260 L231 256 L230 268 L222 266 Z" fill="#2d9a3c"/>
<ellipse cx="238" cy="265" rx="12" ry="10.5" fill="#93cf62"/>
<path d="M232 257 C230 265 232 272 236 276 M240 255 C242 262 242 270 240 276" stroke="#c4e79a" stroke-width="1.4" fill="none"/>
<ellipse cx="264" cy="267" rx="10" ry="8" fill="#86b83a"/>
<path d="M201 276 L198 271 L203 273 L203 267 L207 272 L210 266 L212 273 L215 271 L214 280 Z" fill="#4daa3b"/>
<path d="M202 284 C200 278 206 272 214 274 C222 276 226 282 226 287 L205 287 Z" fill="#e4572a"/>
<path d="M212 278 C216 272 224 272 228 278 L228 287 L214 287 Z" fill="#f58a2c"/>
<path d="M220.5 287 C218 274 226 268 232 270 C239 272 243 280 243.5 287 Z" fill="#fff"/>
<path d="M225 277 L229 276 M231 281 L235 280" stroke="#ddd6cc" stroke-width="1.2" stroke-linecap="round"/>
<path d="M238 287 C236 272 246 264 256 266 C266 268 270 278 268 287 Z" fill="#1f6b3a"/>
<path d="M247 270 C245 276 246 282 248 287 M259 272 C258 278 258 283 259 287" stroke="#15532c" stroke-width="1.3" fill="none"/>
<path d="M266 287 C265 278 270 272 276 273 C282 274 284 282 282 287 Z" fill="#7b3fa0"/>
<ellipse cx="280" cy="263" rx="10" ry="8" fill="#e0282a"/>
<path d="M273 258 L276 252 L279 256 L283 251 L284 257 L289 256 L285 262 L278 262 Z" fill="#2d9a3c"/>
<path d="M280 287 C277 276 282 268 289 268 C296 268 299 276 297 287 Z" fill="#e5262b"/>
<path d="M279 273 L282 266 L285 270 L290 265 L290 271 L295 271 L289 276 L283 276 Z" fill="#2d9a3c"/>
<path d="M268 270 L272 262 L275 268 L280 266 L277 276 L271 276 Z" fill="#1f7a38"/>
<circle cx="293.6" cy="280.6" r="1.5" fill="#fff"/>
</g>
<!-- basket -->
<ellipse cx="222" cy="308.6" rx="5.4" ry="5.8" fill="#fbd3b4"/><ellipse cx="283" cy="308.6" rx="5.4" ry="5.8" fill="#fbd3b4"/>
<path d="M207.5 286.2 C230 288.2 275 288.4 297.2 287 C295 303 284 314.5 277 316.8 L233.3 316.8 C222 314 210 302 207.5 286.2 Z" fill="#c99a22"/>
<g stroke="#a3781a" stroke-width="2" stroke-linecap="round">
<path d="M220.5 291.6 L226.5 291.8"/><path d="M239 292.6 L244.5 292.8"/><path d="M255 293 L260 293.2"/><path d="M270 293.8 L275.5 294"/><path d="M283 294.4 L288 294.6"/>
<path d="M226 303.4 L231 303.6"/><path d="M241.5 303 L246.5 303.2"/><path d="M258 303.4 L263 303.6"/><path d="M273.5 303.6 L278.5 303.8"/>
<path d="M241 310.8 L246 311"/><path d="M259 311 L264 311.2"/>
</g>
</g>

<use href="#melon" transform="translate(460 172) scale(0.25)"/>

<g id="hydro" transform="translate(870 150) scale(0.2)">
<defs>
<g id="lettuce">
<path d="M-22 68 L-24 36 C-44 36 -62 22 -62 2 C-62 -10 -52 -16 -42 -12 C-50 -30 -40 -50 -24 -52 C-18 -62 -6 -72 4 -68 C10 -60 12 -50 10 -42 C20 -54 34 -56 42 -48 C46 -36 40 -24 34 -18 C46 -22 60 -16 62 -2 C60 16 44 32 26 36 L24 68 Z" fill="#84bf6c"/>
<path d="M0 44 C0 24 -4 4 -10 -14 M-2 24 C-16 20 -32 12 -44 2 M0 16 C14 10 30 4 46 -8 M-6 0 C-14 -8 -20 -18 -22 -30 M4 8 C12 -4 18 -16 22 -30" fill="none" stroke="#3e4a26" stroke-width="3.4" stroke-linecap="round"/>
</g>
</defs>
<!-- plants row1 -->
<use href="#lettuce" x="228" y="365"/><use href="#lettuce" x="640" y="365"/><use href="#lettuce" x="880" y="365"/><use href="#lettuce" x="1062" y="365"/>
<use href="#lettuce" x="225" y="554" transform="translate(225 554) scale(1.05 0.92) translate(-225 -554)"/><use href="#lettuce" x="432" y="554"/><use href="#lettuce" x="622" y="554"/><use href="#lettuce" x="880" y="554"/><use href="#lettuce" x="1060" y="554" transform="translate(1060 554) scale(1.08 0.95) translate(-1060 -554)"/>
<use href="#lettuce" x="228" y="744"/><use href="#lettuce" x="437" y="748" transform="translate(437 748) scale(1.08 0.9) translate(-437 -748)"/><use href="#lettuce" x="630" y="744"/><use href="#lettuce" x="880" y="744"/><use href="#lettuce" x="1062" y="744"/>
<!-- shelves -->
<rect x="130" y="433" width="1042" height="55" fill="#82c0c8"/>
<rect x="130" y="622" width="1042" height="56" fill="#82c0c8"/>
<rect x="130" y="812" width="1042" height="55" fill="#82c0c8"/>
<rect x="130" y="978" width="1110" height="124" fill="#82c0c8"/>
<rect x="1170" y="335" width="70" height="767" rx="4" fill="#82c0c8"/>
<path d="M1172 440 L1173 1020" stroke="#3f5a5c" stroke-width="3" stroke-dasharray="60 30 120 40 200 30" fill="none" opacity="0.8"/>
<!-- held plant -->
<path d="M470 400 C430 392 380 388 352 378 C362 360 356 340 340 318 C360 300 384 300 400 310 C396 280 410 252 432 236 C448 262 452 290 450 316 C462 290 470 268 482 250 C496 262 498 280 494 296 C506 280 528 268 548 274 C548 300 530 326 506 346 C498 366 494 384 496 400 Z" fill="#84bf6c"/>
<path d="M478 392 C462 362 440 330 412 300 M440 340 C420 340 396 340 372 346 M470 372 C480 340 492 312 510 292" fill="none" stroke="#5a8a48" stroke-width="3" stroke-linecap="round"/>
<path d="M462 440 C470 424 500 418 560 424 L562 440 C530 444 500 452 476 462 C464 462 458 452 462 440 Z" fill="#a97c5a"/>
<path d="M490 430 L540 436 L532 462 L510 456 Z" fill="#84bf6c"/>
<!-- man: pants -->
<path d="M665 615 L848 610 C852 700 856 800 858 830 C866 900 872 980 874 1098 L795 1092 C792 1000 770 900 750 830 C742 900 738 1000 738 1078 L660 1076 C664 1000 664 960 656 880 C656 800 664 700 665 615 Z" fill="#937557"/>
<path d="M738 690 C740 740 744 790 750 830" fill="none" stroke="#6e563e" stroke-width="3"/>
<!-- shoes -->
<path d="M586 1100 C600 1082 640 1070 662 1066 C690 1080 720 1078 738 1072 L738 1102 C700 1118 640 1124 596 1122 C586 1118 582 1108 586 1100 Z" fill="#3a2c1a"/>
<path d="M806 1096 L874 1096 C876 1130 860 1170 826 1180 C800 1180 788 1160 790 1140 C792 1124 800 1108 806 1096 Z" fill="#3a2c1a"/>
<!-- dark undershirt -->
<path d="M652 490 L770 490 L760 640 L700 672 L666 672 Z" fill="#3a2a18"/>
<!-- sweater body -->
<path d="M700 330 C740 300 800 296 850 318 C878 340 884 400 878 460 C870 520 858 580 850 612 C800 640 740 650 680 640 C660 628 652 600 652 572 C700 566 740 548 770 520 L652 500 C650 440 668 372 700 330 Z" fill="#07819a"/>
<!-- arm -->
<path d="M566 384 C640 400 720 412 780 420 C820 424 850 400 862 372 C880 420 870 480 830 506 C790 524 720 516 650 494 C620 484 590 470 568 462 Z" fill="#07819a"/>
<path d="M712 376 C730 350 744 340 760 336 M650 494 C700 512 760 524 810 514 M680 410 C710 420 730 430 748 432 M830 340 C800 360 770 390 748 432" fill="none" stroke="#0b4f5c" stroke-width="3" stroke-linecap="round"/>
<!-- hand -->
<path d="M568 384 C540 370 510 362 488 368 C470 380 462 400 462 418 C480 430 510 432 540 428 C552 426 562 424 568 420 Z" fill="#f2c9a0"/>
<path d="M470 396 C486 388 504 384 520 384 M468 410 C486 402 506 400 524 402 M476 422 C492 416 510 414 528 416" fill="none" stroke="#7a4a30" stroke-width="2.6" stroke-linecap="round"/>
<!-- neck & face -->
<path d="M740 296 L800 290 L806 322 C786 332 760 332 744 326 Z" fill="#e9b88c"/>
<path d="M682 222 L760 212 L772 300 C750 316 716 316 694 300 C690 284 686 270 676 262 L684 246 Z" fill="#f2c9a0"/>
<!-- hair -->
<path d="M744 214 C770 206 800 214 812 232 C812 256 806 276 796 290 L776 282 C770 262 760 240 744 232 Z" fill="#fff"/>
<!-- beard -->
<path d="M688 276 C700 270 716 268 730 262 C740 250 748 244 758 244 C772 260 776 288 768 306 C750 328 716 336 694 324 C686 310 684 292 688 276 Z" fill="#fff"/>
<path d="M690 282 C700 280 712 282 722 284" stroke="#d8d8d8" stroke-width="3" fill="none"/>
<!-- eye -->
<circle cx="703" cy="240" r="4.5" fill="#2a1a10"/>
<path d="M694 230 L712 227" stroke="#2a1a10" stroke-width="2.5"/>
<!-- cap -->
<path d="M642 210 C646 196 672 186 700 184 C704 160 730 144 760 148 C796 152 818 178 816 228 C790 214 750 210 716 216 C690 222 664 224 650 220 C644 218 640 214 642 210 Z" fill="#07819a"/>
<path d="M700 184 C720 186 744 196 760 212 M770 150 C772 176 772 196 770 212" fill="none" stroke="#0b4f5c" stroke-width="3"/>
</g>

<use href="#melon" transform="translate(854.2 477.2) scale(0.203)"/>

<g id="risk">
<rect x="895.6" y="654.6" width="197.7" height="49.1" rx="24.55" fill="#ffe27a"/>
<path d="M898.6 686 C920 694.5 940 694.5 960 694.5 L1050 694.5 C1072 694.5 1079 680 1079 668 C1079 662 1076 658 1072 656.5 L1080 657 C1092 664 1094 690 1082 700 L1066 703.7 L922 703.7 C908 702 900 694 898.6 686 Z" fill="#ffd55f"/>
<g fill="none" stroke="#000" stroke-width="6.1" stroke-linecap="round">
<path d="M1053.2 654.6 L1068.75 654.6 A24.55 24.55 0 0 1 1068.75 703.7 L949.9 703.7"/>
<path d="M934 703.7 L920.15 703.7 A24.55 24.55 0 0 1 920.15 654.6 L1037.5 654.6"/>
</g>
<text transform="translate(952.2 691.9) scale(0.74 1)" letter-spacing="8.6" style="font-family:'Liberation Sans',sans-serif;font-weight:bold;font-size:36.5px;fill:#000;stroke:#000;stroke-width:1.5px;stroke-linejoin:round">RISK</text>
</g>

<g id="chart">
<rect x="544.2" y="685" width="175.4" height="13.4" rx="6.7" fill="#f2d07e"/>
<g fill="#155878">
<path d="M555.1 686 L555.1 600.6 Q555.1 595.4 560.3 595.4 L581.6 595.4 Q586.8 595.4 586.8 600.6 L586.8 686 Z"/>
<path d="M596.8 686 L596.8 632 Q596.8 626.8 602 626.8 L623 626.8 Q628.2 626.8 628.2 632 L628.2 686 Z"/>
<path d="M637.2 686 L637.2 620.2 Q637.2 615 642.4 615 L663.7 615 Q668.9 615 668.9 620.2 L668.9 686 Z"/>
<path d="M675.4 686 L675.4 636.4 Q675.4 631.2 680.6 631.2 L702.3 631.2 Q707.5 631.2 707.5 636.4 L707.5 686 Z"/>
</g>
<path d="M560.8 565 L613.9 599.2 L649 575 L688 599.5" fill="none" stroke="#f4b594" stroke-width="9" stroke-linejoin="miter" stroke-miterlimit="6"/>
<path d="M692.5 584.6 L708.1 609.6 L677.9 609.6 Z" fill="#f4b594"/>
<text x="593.2" y="569.2" style="font-family:'DejaVu Sans Condensed','DejaVu Sans',sans-serif;font-weight:bold;font-size:68px;fill:#19835f">$</text>
<text class="lbl" x="541.9" y="732.6" textLength="180" lengthAdjust="spacingAndGlyphs" style="font-size:21px;fill:#111">Negative Income</text>
</g>

<g id="money" transform="translate(100 450) scale(0.25)">
<defs>
<g id="bill">
<path d="M-110 -42 C-50 -62 40 -64 110 -46 L102 56 C40 40 -40 42 -106 58 Z" fill="#b9dd80" stroke="#34421f" stroke-width="3" stroke-linejoin="round"/>
<path d="M-98 -32 C-45 -50 38 -52 98 -36 L92 42 C38 28 -38 30 -95 44 Z" fill="none" stroke="#d6eda6" stroke-width="5"/>
<circle cx="-36" cy="2" r="31" fill="#6fab68"/>
<circle cx="46" cy="-8" r="13" fill="#6fab68"/>
</g>
<g id="beetleaf">
<path d="M0 0 C-10 -20 -20 -36 -34 -50 C-52 -46 -66 -56 -70 -72 C-62 -76 -58 -84 -60 -94 C-46 -100 -34 -94 -28 -84 C-24 -92 -14 -96 -6 -92 C-2 -76 -2 -60 2 -44 C8 -56 18 -66 30 -70 C34 -80 46 -84 56 -80 C56 -72 62 -66 70 -64 C68 -48 56 -40 44 -40 C32 -32 16 -20 8 0 Z" fill="#8abe3c"/>
<path d="M2 -2 C0 -20 -2 -38 -4 -56 M-38 -66 L-24 -52 M34 -52 L44 -62" fill="none" stroke="#1f2a12" stroke-width="4" stroke-linecap="round"/>
</g>
</defs>
<!-- bills -->
<clipPath id="boxclip"><rect x="234" y="265" width="936" height="938" rx="132"/></clipPath>
<g clip-path="url(#boxclip)">
<use href="#bill" transform="translate(350 370) rotate(-2)"/>
<g><path d="M625 282 L765 300 C752 370 700 470 600 540 L465 518 C540 480 600 400 625 282 Z" fill="#b9dd80" stroke="#34421f" stroke-width="3" stroke-linejoin="round"/>
<path d="M638 296 L748 310 C734 372 690 456 598 524 L500 508 C565 466 618 392 638 296 Z" fill="none" stroke="#d6eda6" stroke-width="5"/>
<circle cx="632" cy="446" r="38" fill="#6fab68"/><circle cx="668" cy="368" r="13" fill="#6fab68"/><circle cx="584" cy="500" r="10" fill="#6fab68"/></g>
<use href="#bill" transform="translate(592 652) rotate(-14) scale(0.95)"/>
<g><path d="M770 648 L862 625 C866 700 830 770 760 802 L650 790 C720 776 766 730 770 648 Z" fill="#b9dd80" stroke="#34421f" stroke-width="3" stroke-linejoin="round"/>
<path d="M782 658 L850 640 C852 700 822 760 758 790 L690 782 C742 764 778 724 782 658 Z" fill="none" stroke="#d6eda6" stroke-width="4.5"/>
<circle cx="796" cy="744" r="25" fill="#6fab68"/><circle cx="812" cy="682" r="10" fill="#6fab68"/></g>
<use href="#bill" transform="translate(1066 752) rotate(55) scale(0.7 0.7)"/>
<use href="#bill" transform="translate(425 800) rotate(25) scale(0.7)"/>
<g><path d="M650 945 L735 970 C720 1040 670 1100 600 1120 L520 1085 C590 1066 636 1016 650 945 Z" fill="#b9dd80" stroke="#34421f" stroke-width="3" stroke-linejoin="round"/>
<path d="M660 960 L722 978 C708 1036 664 1088 602 1106 L548 1082 C606 1060 648 1018 660 960 Z" fill="none" stroke="#d6eda6" stroke-width="4.5"/>
<circle cx="636" cy="1056" r="28" fill="#6fab68"/><circle cx="666" cy="1004" r="9" fill="#6fab68"/><circle cx="596" cy="1092" r="8" fill="#6fab68"/></g>
<use href="#bill" transform="translate(872 942) rotate(-72) scale(0.72 0.5)"/>
<use href="#bill" transform="translate(1116 1040) rotate(62) scale(0.78 0.6)"/>
<use href="#bill" transform="translate(916 1140) rotate(-28) scale(0.95 0.75)"/>
<path d="M960 312 L1000 322 L990 338 L962 334 Z" fill="#b9dd80"/>
</g>

<!-- WOMAN -->
<g id="woman">
<!-- bun/hair back -->
<ellipse cx="1142" cy="268" rx="48" ry="54" fill="#2c281e"/>
<path d="M1000 150 C1020 130 1120 120 1150 160 L1160 250 L1100 300 L1010 200 Z" fill="#2c281e"/>
<!-- sleeves -->
<path d="M940 345 C900 350 860 380 848 440 L850 520 L905 540 L960 420 Z" fill="#f6f1e4" stroke="#d9cfb8" stroke-width="2"/>
<path d="M1110 345 C1170 350 1225 400 1245 480 L1170 560 L1100 480 Z" fill="#f6f1e4" stroke="#d9cfb8" stroke-width="2"/>
<g stroke="#d6ccb6" stroke-width="2.5" fill="none">
<path d="M870 400 L950 470 M858 440 L930 505 M900 368 L960 420 M905 540 L955 380 M875 530 L925 372"/>
<path d="M1130 380 L1230 470 M1115 420 L1200 520 M1160 365 L1240 440 M1140 540 L1215 400 M1110 480 L1180 370"/>
</g>
<!-- raised arm -->
<path d="M770 320 L858 320 C862 400 860 470 850 520 L905 540 C880 570 800 590 765 560 C750 500 760 400 770 320 Z" fill="#fbb9a6"/>
<path d="M846 470 L846 512" stroke="#2a1e18" stroke-width="5" stroke-linecap="round"/>
<!-- overalls -->
<path d="M940 338 L975 338 L985 400 L1085 400 L1095 338 L1128 338 L1135 470 L1165 480 L1165 720 L892 716 L892 500 L935 470 Z" fill="#3f9aa8"/>
<!-- blouse center/collar -->
<path d="M975 338 L1095 338 L1090 440 L985 440 Z" fill="#f6f1e4"/>
<path d="M978 340 C976 370 990 392 1016 388 C1030 384 1034 370 1034 360 C1036 376 1046 392 1066 392 C1090 390 1098 366 1094 340 Z" fill="#fff" stroke="#2a1e18" stroke-width="3"/>
<path d="M1016 388 L1016 440" stroke="#2a1e18" stroke-width="3"/>
<!-- buckles -->
<rect x="908" y="396" width="52" height="34" rx="9" fill="#3f9aa8" stroke="#1d2a2e" stroke-width="4"/>
<rect x="1066" y="406" width="50" height="34" rx="9" fill="#3f9aa8" stroke="#1d2a2e" stroke-width="4"/>
<path d="M935 560 L935 470 L1000 470" fill="none" stroke="#1d2a2e" stroke-width="4"/>
<!-- neck -->
<path d="M1000 290 L1062 290 L1062 340 C1046 356 1016 356 1000 340 Z" fill="#fbb9a6"/>
<path d="M1004 320 L1048 320" stroke="#2a1e18" stroke-width="5" stroke-linecap="round"/>
<!-- face -->
<ellipse cx="1036" cy="222" rx="98" ry="92" fill="#fbb9a6"/>
<circle cx="1136" cy="232" r="24" fill="#fbb9a6"/>
<path d="M1128 224 C1140 218 1148 228 1140 240" fill="none" stroke="#2a1e18" stroke-width="5" stroke-linecap="round"/>

<circle cx="980" cy="210" r="10" fill="#1e1a14"/><circle cx="1050" cy="210" r="10" fill="#1e1a14"/>
<path d="M962 188 C972 180 986 180 994 186 M1036 186 C1046 178 1060 180 1068 188" fill="none" stroke="#1e1a14" stroke-width="5.5" stroke-linecap="round"/>
<path d="M1018 206 C1004 226 1000 240 1018 244 C1024 244 1028 242 1030 238" fill="none" stroke="#1e1a14" stroke-width="5.5" stroke-linecap="round"/>
<path d="M986 262 C1006 278 1036 276 1056 258" fill="none" stroke="#1e1a14" stroke-width="6" stroke-linecap="round"/>
<!-- hat -->
<path d="M1012.2 138.2 C1017.8 138.8 1055.4 146.5 1069.0 150.7 C1082.6 154.9 1119.0 169.0 1128.7 174.6 C1138.4 180.2 1149.8 194.9 1151.9 198.5 C1154.0 202.1 1151.7 203.1 1146.6 205.7 C1141.5 208.3 1114.8 222.8 1107.8 220.6 C1100.8 218.4 1093.2 194.2 1086.9 187.2 C1080.6 180.2 1061.7 165.2 1054.0 160.3 C1046.3 155.4 1026.1 148.0 1021.2 145.4 C1016.3 142.8 1006.6 137.6 1012.2 138.2Z" fill="#2c281e"/>
<path d="M930.1 147.8 L947.2 143.0 L944.2 169.3 L941.2 199.1 L932.2 181.2 Z" fill="#2c281e"/>
<path d="M939.1 111.0 C942.3 105.3 949.3 86.4 958.5 76.7 C967.7 67.0 980.4 58.5 994.3 52.8 C1008.2 47.1 1026.2 42.9 1042.1 42.4 C1058.0 41.9 1075.5 44.7 1089.9 49.9 C1104.3 55.1 1118.8 64.8 1128.7 73.7 C1138.7 82.7 1144.7 92.6 1149.6 103.6 C1154.5 114.5 1156.5 133.4 1157.9 139.4 Z" fill="#a96a52"/>
<path d="M879.4 133.4 C884.2 130.3 906.4 119.0 919.7 116.1 C933.0 113.2 963.5 111.1 979.4 111.3 C995.3 111.5 1023.2 114.9 1039.1 117.3 C1055.0 119.7 1082.5 125.9 1098.8 129.3 C1115.1 132.7 1149.6 139.7 1161.5 143.0 C1173.4 146.3 1181.4 149.6 1188.4 154.3 C1195.4 159.0 1213.7 172.2 1213.7 178.2 C1213.7 184.2 1195.8 195.3 1188.4 199.1 C1181.0 202.9 1163.5 206.6 1158.5 206.6 C1153.5 206.6 1155.0 203.3 1151.0 199.1 C1147.0 194.9 1139.6 181.6 1128.7 175.2 C1117.8 168.8 1084.1 156.2 1069.0 151.3 C1053.9 146.4 1031.1 140.6 1015.2 138.8 C999.3 137.0 960.7 136.8 949.6 137.9 C938.5 139.0 934.2 141.9 931.6 146.9 C929.0 151.9 933.7 173.4 930.1 175.2 C926.5 177.0 911.0 165.1 904.8 160.3 C898.6 155.5 887.3 143.0 883.9 139.4 C880.5 135.8 874.6 136.5 879.4 133.4Z" fill="#a96a52"/>
<path d="M880.3 133.4 C886.9 130.4 903.2 119.3 919.7 115.5 C936.2 111.7 959.5 110.5 979.4 110.7 C999.3 110.9 1019.2 113.7 1039.1 116.7 C1059.0 119.7 1078.3 124.4 1098.8 128.7 C1119.3 133.0 1151.5 140.1 1162.1 142.4" fill="none" stroke="#2a1e18" stroke-width="7" stroke-linecap="round"/>
<!-- beet in hand -->
<use href="#beetleaf" transform="translate(826 300) scale(1.1)"/>
<path d="M760 372 C762 344 790 336 812 340 C840 336 862 352 860 384 C858 416 836 436 812 440 C806 448 800 454 796 456 C794 450 794 444 796 438 C774 430 758 404 760 372 Z" fill="#b72c50"/>
<path d="M846 392 C844 404 838 414 830 420" fill="none" stroke="#2a1e18" stroke-width="5" stroke-linecap="round"/>
<path d="M775 296 C790 284 840 284 858 300 C866 320 860 340 850 346 L790 346 C776 336 770 312 775 296 Z" fill="#fbb9a6"/>
<path d="M780 306 L816 300 M778 320 L818 314 M782 334 L816 328" stroke="#2a1e18" stroke-width="5" stroke-linecap="round"/>
<!-- basket -->
<path d="M960 500 C1000 460 1090 460 1130 520" fill="none" stroke="#a96a52" stroke-width="7"/>
<path d="M920 590 C960 540 1100 530 1150 580 C1160 640 1120 700 1040 712 C970 712 924 660 920 590 Z" fill="#a96a52"/>
<ellipse cx="1035" cy="588" rx="100" ry="34" fill="#3a241c"/>
<circle cx="1060" cy="590" r="44" fill="#b72c50"/><circle cx="985" cy="620" r="36" fill="#b72c50"/>
<path d="M920 620 C950 690 1100 700 1150 610 C1150 660 1110 710 1040 712 C970 712 926 670 920 620 Z" fill="#a96a52"/>
<use href="#beetleaf" transform="translate(1062 556) scale(1.15)"/>
<use href="#beetleaf" transform="translate(975 600) rotate(-35) scale(1.2)"/>
<!-- right arm & hand -->
<path d="M1170 560 C1200 520 1240 480 1245 480 C1280 520 1285 580 1250 620 C1200 650 1130 660 1080 665 L1070 600 C1110 590 1150 580 1170 560 Z" fill="#fbb9a6"/>
<path d="M990 610 C1010 588 1060 586 1082 604 L1090 660 C1070 680 1030 684 1010 664 C996 650 986 630 990 610 Z" fill="#fbb9a6"/>
<path d="M1000 620 L1030 660 M1016 610 L1044 652 M1036 604 L1058 640" stroke="#2a1e18" stroke-width="5" stroke-linecap="round"/>
<path d="M1170 540 L1196 532" stroke="#2a1e18" stroke-width="5" stroke-linecap="round"/>
</g>

<!-- BOY -->
<g id="boy">
<!-- hair -->
<path d="M186 690 C180 640 220 600 310 600 C400 600 445 630 440 690 L430 720 L330 740 L240 770 L205 750 Z" fill="#2a261c"/>
<!-- sleeves -->
<path d="M235 815 C180 830 130 880 106 950 L190 1000 L250 920 Z" fill="#5ba848"/>
<path d="M440 830 C480 850 505 900 512 960 L470 990 L430 920 Z" fill="#5ba848"/>
<g stroke="#2f7030" stroke-width="3" fill="none">
<path d="M150 880 L230 950 M180 850 L245 905 M125 920 L200 985 M150 980 L235 850 M120 950 L200 840"/>
<path d="M450 850 L505 930 M440 890 L490 970 M500 900 L450 960 M480 860 L440 920"/>
</g>
<!-- raised arm -->
<path d="M505 800 L592 800 C604 880 604 960 590 1040 C560 1060 520 1050 500 1020 L470 990 L512 960 C514 900 508 850 505 800 Z" fill="#fbb9a6"/>
<path d="M512 940 L512 982" stroke="#2a1e18" stroke-width="5" stroke-linecap="round"/>
<path d="M150 970 L240 940 L240 1080 L180 1080 Z" fill="#fbb9a6"/>
<!-- shirt front -->
<path d="M240 812 L440 812 L440 960 L240 960 Z" fill="#5ba848"/>
<g stroke="#2f7030" stroke-width="3" fill="none"><path d="M290 820 L290 960 M345 860 L345 960 M400 820 L400 960 M240 880 L440 880 M240 925 L440 925"/></g>
<!-- overalls -->
<path d="M228 816 L262 808 L290 900 L400 900 L420 808 L446 816 L462 960 L462 1195 L188 1195 L190 1090 L232 960 Z" fill="#2a261c"/>
<rect x="240" y="882" width="50" height="34" rx="6" fill="none" stroke="#d59a3c" stroke-width="6"/>
<rect x="396" y="872" width="50" height="34" rx="6" fill="none" stroke="#d59a3c" stroke-width="6"/>
<path d="M290 1000 L290 950 L420 950 L420 1000" fill="none" stroke="#d59a3c" stroke-width="5"/>
<!-- collar -->
<path d="M262 808 C258 840 280 866 310 862 C330 858 340 846 342 836 C346 850 356 866 376 864 C396 860 392 830 384 808 Z" fill="#5ba848" stroke="#1f2a12" stroke-width="3"/>
<!-- neck -->
<path d="M300 770 L362 770 L362 812 C346 828 316 828 300 812 Z" fill="#fbb9a6"/>
<path d="M306 796 L350 796" stroke="#2a1e18" stroke-width="5" stroke-linecap="round"/>
<!-- face -->
<ellipse cx="322" cy="704" rx="94" ry="86" fill="#fbb9a6"/>
<circle cx="216" cy="716" r="24" fill="#fbb9a6"/>
<path d="M226 706 C212 702 206 714 214 726" fill="none" stroke="#2a1e18" stroke-width="5" stroke-linecap="round"/>

<circle cx="306" cy="682" r="10" fill="#1e1a14"/><circle cx="376" cy="682" r="10" fill="#1e1a14"/>
<path d="M288 662 C298 654 312 654 320 660 M362 660 C372 652 386 654 394 662" fill="none" stroke="#1e1a14" stroke-width="5.5" stroke-linecap="round"/>
<path d="M350 680 C362 700 364 714 346 716 C340 716 336 714 334 710" fill="none" stroke="#1e1a14" stroke-width="5.5" stroke-linecap="round"/>
<path d="M300 732 C320 748 350 746 370 730" fill="none" stroke="#1e1a14" stroke-width="6" stroke-linecap="round"/>
<!-- hat -->
<path d="M249.3 649.2 C264.2 629.3 309.0 621.8 323.9 624.3 C333.8 639.2 358.7 639.2 368.7 626.8 C388.6 624.3 408.5 629.3 418.4 639.2 L418.4 676.5 C408.5 669.1 406.0 649.2 398.5 639.2 C383.6 649.2 363.7 646.7 348.8 635.2 C333.8 639.2 318.9 634.2 309.0 629.3 C294.0 639.2 274.1 654.1 264.2 679.0 C259.2 689.0 249.3 698.9 241.8 701.4 L224.4 679.0 Z" fill="#2a261c"/>
<path d="M198.5 616.8 C199.9 610.6 200.2 592.2 207.0 579.5 C213.8 566.8 222.3 550.8 239.3 540.7 C256.3 530.6 287.4 519.8 309.0 518.8 C330.6 517.8 352.1 525.8 368.7 534.7 C385.3 543.6 399.8 562.7 408.5 572.0 C417.2 581.3 418.8 587.3 420.9 590.4 Z" fill="#d59a3c"/>
<path d="M140.8 651.6 C142.1 646.6 152.9 638.6 159.7 634.2 C166.5 629.8 180.1 622.5 192.0 618.3 C203.9 614.1 231.7 606.3 249.3 602.9 C266.9 599.5 304.0 594.9 323.9 592.9 C343.8 590.9 381.9 588.0 398.5 588.0 C415.1 588.0 438.4 590.2 448.3 592.9 C458.2 595.6 470.8 603.4 473.1 607.9 C475.4 612.4 469.7 622.5 465.7 626.8 C461.7 631.1 452.3 640.4 443.3 640.2 C434.3 640.0 414.4 627.6 398.5 625.3 C382.6 623.0 343.8 620.1 323.9 622.8 C304.0 625.5 267.9 637.6 249.3 645.2 C230.7 652.8 197.9 676.5 184.6 680.0 C171.3 683.5 155.6 675.3 149.8 671.5 C144.0 667.7 139.5 656.6 140.8 651.6Z" fill="#d59a3c"/>
<path d="M193.5 617.3 C202.8 614.7 227.6 606.1 249.3 601.9 C271.0 597.7 299.0 594.4 323.9 591.9 C348.8 589.4 377.8 587.0 398.5 587.0 C419.2 587.0 435.9 588.6 448.3 591.9 C460.7 595.2 469.0 604.4 473.1 606.9" fill="none" stroke="#1f1a10" stroke-width="7" stroke-linecap="round"/>
<!-- beet in hand -->
<use href="#beetleaf" transform="translate(524 776) scale(1.08)"/>
<path d="M496 850 C498 826 520 814 546 816 C576 814 600 832 598 862 C596 890 576 908 556 912 C556 922 560 930 562 934 C552 930 546 922 544 912 C516 906 494 882 496 850 Z" fill="#b72c50"/>
<path d="M506 850 C504 866 510 880 518 890" fill="none" stroke="#2a1e18" stroke-width="5" stroke-linecap="round"/>
<path d="M498 776 C516 762 560 762 580 774 C588 796 582 814 572 822 L514 822 C500 812 494 792 498 776 Z" fill="#fbb9a6"/>
<path d="M540 780 L576 774 M540 794 L578 788 M542 808 L576 802" stroke="#2a1e18" stroke-width="5" stroke-linecap="round"/>
<!-- basket -->
<path d="M236 1030 C270 960 380 950 420 1030" fill="none" stroke="#d59a3c" stroke-width="7"/>
<path d="M200 1080 C240 1030 390 1020 440 1070 C450 1130 410 1180 330 1186 C250 1186 204 1140 200 1080 Z" fill="#d59a3c"/>
<ellipse cx="320" cy="1072" rx="104" ry="32" fill="#2a1e14"/>
<circle cx="290" cy="1070" r="42" fill="#b72c50"/><circle cx="362" cy="1094" r="36" fill="#b72c50"/>
<path d="M200 1100 C230 1170 400 1180 440 1090 C440 1140 400 1184 330 1186 C250 1186 206 1150 200 1100 Z" fill="#d59a3c"/>
<use href="#beetleaf" transform="translate(290 1036) scale(1.15)"/>
<use href="#beetleaf" transform="translate(372 1066) rotate(8) scale(1.0)"/>
<use href="#beetleaf" transform="translate(410 1068) rotate(55) scale(0.9)"/>
<!-- left arm & hand -->
<path d="M106 950 L190 1000 C200 1030 230 1050 270 1064 L260 1130 C200 1120 120 1090 86 1040 C74 1010 84 976 106 950 Z" fill="#fbb9a6"/>
<path d="M262 1070 C290 1056 330 1066 350 1090 C356 1110 350 1130 336 1140 C310 1146 280 1140 262 1126 Z" fill="#fbb9a6"/>
<path d="M300 1086 L336 1118 M286 1100 L326 1134 M318 1078 L346 1104" stroke="#2a1e18" stroke-width="5" stroke-linecap="round"/>
<path d="M160 1004 L186 1012" stroke="#2a1e18" stroke-width="5" stroke-linecap="round"/>
</g>
</g>

<g id="blob">
<path d="M1282 433.6 C1288.0 433.6 1293.0 436.1 1300 438 C1307.0 439.9 1316.7 442.7 1324 445 C1331.3 447.3 1338.7 449.2 1344 452 C1349.3 454.8 1352.0 458.3 1356 462 C1360.0 465.7 1364.0 468.3 1368 474 C1372.0 479.7 1377.0 489.3 1380 496 C1383.0 502.7 1384.7 507.7 1386 514 C1387.3 520.3 1386.7 527.3 1388 534 C1389.3 540.7 1391.3 547.3 1394 554 C1396.7 560.7 1401.7 567.2 1404 574 C1406.3 580.8 1407.5 587.3 1408 595 C1408.5 602.7 1408.2 612.5 1407 620 C1405.8 627.5 1403.2 633.2 1401 640 C1398.8 646.8 1396.0 654.0 1394 661 C1392.0 668.0 1390.3 675.7 1389 682 C1387.7 688.3 1387.9 692.7 1386 699 C1384.1 705.3 1381.3 712.3 1377.5 720 C1373.7 727.7 1369.2 736.0 1363 745 C1356.8 754.0 1349.2 765.7 1340 774 C1330.8 782.3 1317.8 790.2 1308 795 C1298.2 799.8 1289.0 801.5 1281 802.6 C1273.0 803.7 1268.3 803.1 1260 801.5 C1251.7 799.9 1241.2 797.2 1231 793 C1220.8 788.8 1207.8 783.3 1199 776 C1190.2 768.7 1182.8 758.3 1178 749 C1173.2 739.7 1172.2 729.5 1170 720 C1167.8 710.5 1166.8 701.2 1164.6 692 C1162.4 682.8 1159.8 673.7 1157 665 C1154.2 656.3 1150.8 648.3 1148 640 C1145.2 631.7 1141.2 624.0 1140.5 615 C1139.8 606.0 1142.1 594.2 1144 586 C1145.9 577.8 1148.7 573.3 1152 566 C1155.3 558.7 1160.3 549.0 1164 542 C1167.7 535.0 1170.7 531.0 1174 524 C1177.3 517.0 1179.0 507.3 1184 500 C1189.0 492.7 1197.3 486.0 1204 480 C1210.7 474.0 1218.0 468.7 1224 464 C1230.0 459.3 1236.0 455.2 1240 452 C1244.0 448.8 1244.0 447.3 1248 445 C1252.0 442.7 1258.3 439.9 1264 438 C1269.7 436.1 1276.0 433.6 1282 433.6Z" fill="#e8f2e5"/>
<g transform="translate(1040 420) scale(0.12588)">
<path d="M228 560 C240.0 540.0 268.0 478.3 300 440 C332.0 401.7 376.7 359.2 420 330 C463.3 300.8 513.3 279.2 560 265 C606.7 250.8 653.3 245.8 700 245 C746.7 244.2 796.7 250.8 840 260 C883.3 269.2 926.7 285.8 960 300 C993.3 314.2 1026.7 337.5 1040 345 L1005 198 L1215 490 L850 525 L1000 455 C983.3 445.8 936.7 415.8 900 400 C863.3 384.2 820.0 369.2 780 360 C740.0 350.8 700.0 344.2 660 345 C620.0 345.8 580.0 353.3 540 365 C500.0 376.7 458.3 392.5 420 415 C381.7 437.5 340.0 473.3 310 500 C280.0 526.7 251.7 562.5 240 575 Z" fill="#000" transform="translate(4 26)"/>
<path d="M1005 198 L990 215 L1030 350 L1040 345 Z" fill="#000"/>
<path d="M228 560 C240.0 540.0 268.0 478.3 300 440 C332.0 401.7 376.7 359.2 420 330 C463.3 300.8 513.3 279.2 560 265 C606.7 250.8 653.3 245.8 700 245 C746.7 244.2 796.7 250.8 840 260 C883.3 269.2 926.7 285.8 960 300 C993.3 314.2 1026.7 337.5 1040 345 L1005 198 L1215 490 L850 525 L1000 455 C983.3 445.8 936.7 415.8 900 400 C863.3 384.2 820.0 369.2 780 360 C740.0 350.8 700.0 344.2 660 345 C620.0 345.8 580.0 353.3 540 365 C500.0 376.7 458.3 392.5 420 415 C381.7 437.5 340.0 473.3 310 500 C280.0 526.7 251.7 562.5 240 575 Z" fill="#b9894b"/>
</g>
<g transform="translate(1020 700) scale(0.12588)">
<path d="M205 55 C206.7 70.8 205.0 113.3 215 150 C225.0 186.7 241.7 235.8 265 275 C288.3 314.2 319.2 352.5 355 385 C390.8 417.5 435.8 447.5 480 470 C524.2 492.5 576.7 508.8 620 520 C663.3 531.2 705.3 535.0 740 537 C774.7 539.0 813.3 532.8 828 532 L730 648 L1035 480 L742 300 L832 428 C810.0 430.0 745.3 442.2 700 440 C654.7 437.8 605.0 430.0 560 415 C515.0 400.0 468.3 375.8 430 350 C391.7 324.2 356.7 293.3 330 260 C303.3 226.7 284.2 184.2 270 150 C255.8 115.8 249.2 70.8 245 55 Z" fill="#000" transform="translate(8 -28)"/>
<path d="M205 55 C206.7 70.8 205.0 113.3 215 150 C225.0 186.7 241.7 235.8 265 275 C288.3 314.2 319.2 352.5 355 385 C390.8 417.5 435.8 447.5 480 470 C524.2 492.5 576.7 508.8 620 520 C663.3 531.2 705.3 535.0 740 537 C774.7 539.0 813.3 532.8 828 532 L730 648 L1035 480 L742 300 L832 428 C810.0 430.0 745.3 442.2 700 440 C654.7 437.8 605.0 430.0 560 415 C515.0 400.0 468.3 375.8 430 350 C391.7 324.2 356.7 293.3 330 260 C303.3 226.7 284.2 184.2 270 150 C255.8 115.8 249.2 70.8 245 55 Z" fill="#b9894b"/>
<path d="M730 648 L742 615 L826 536 L832 546 Z" fill="#000" opacity="0.9"/>
</g>
<g class="lbl" style="font-size:16.5px;fill:#17201b">
<text x="1246.6" y="472.5" textLength="62.8" lengthAdjust="spacingAndGlyphs">Raising</text>
<text x="1236.2" y="496.7" textLength="82.6" lengthAdjust="spacingAndGlyphs">Seedlings</text>
<text x="1168.1" y="518.1" textLength="76.4" lengthAdjust="spacingAndGlyphs">Planning</text>
<text x="1313.9" y="518.1" textLength="73" lengthAdjust="spacingAndGlyphs">Planting</text>
<text x="1146.9" y="744.3" textLength="114.8" lengthAdjust="spacingAndGlyphs">Maintenance</text>
<text x="1287.4" y="744.3" textLength="105.9" lengthAdjust="spacingAndGlyphs">Distribution</text>
<text x="1240.7" y="778.5" textLength="67.6" lengthAdjust="spacingAndGlyphs">Hervest</text>
</g>
<g id="garden" transform="translate(1180 530) scale(0.21142)">
<defs>
<g id="cab"><circle r="50" fill="#5fae48"/><path d="M-30 -34 C-10 -48 20 -46 36 -28 C48 -8 44 20 28 38 C10 50 -16 48 -34 32 C-20 30 -6 20 0 0 C-4 -16 -16 -28 -30 -34 Z" fill="#7cc45e"/><path d="M0 48 C0 20 4 -10 14 -36 M2 20 C-10 10 -22 6 -34 6 M4 6 C16 -2 28 -4 40 -2" stroke="#cfe9b0" stroke-width="3" fill="none"/></g>
<g id="bush"><path d="M0 0 L-4 -60 C-30 -50 -50 -60 -56 -84 C-40 -88 -34 -100 -36 -116 C-20 -120 -8 -110 -2 -96 C4 -116 18 -124 34 -120 C32 -104 40 -94 54 -90 C50 -66 30 -54 6 -60 Z" fill="#3f9d4a"/></g>
<g id="roots"><path d="M0 0 L0 40 M0 10 L-14 60 M0 12 L14 64 M0 24 L-6 80 M0 26 L8 84 M-14 60 L-22 90 M14 64 L24 88" stroke="#e4d6b8" stroke-width="2.5" fill="none" opacity="0.85"/></g>
</defs>
<!-- shadow -->
<path d="M60 620 C70 720 240 800 450 800 C660 800 820 700 822 600 L822 460 L60 500 Z" fill="#d8e6d0" opacity="0.7"/>
<!-- soil side -->
<path d="M65 490 L65 620 C75 700 240 780 440 782 C640 780 810 690 815 590 L815 440 C810 560 640 640 440 642 C240 640 75 580 65 490 Z" fill="#988250"/>
<path d="M65 540 C75 640 240 710 440 712 L440 782 C240 780 75 700 65 620 Z" fill="#8f7a48" opacity="0.6"/>
<!-- top -->
<ellipse cx="440" cy="436" rx="375" ry="206" fill="#90c990"/>
<ellipse cx="440" cy="430" rx="360" ry="192" fill="#9bd09a" opacity="0.6"/>
<!-- roots -->
<use href="#roots" x="435" y="640"/><use href="#roots" x="580" y="640"/><use href="#roots" x="715" y="590"/><use href="#roots" x="795" y="520"/>
<g fill="#d9cfa0" opacity="0.85"><circle cx="610" cy="680" r="7"/><circle cx="630" cy="660" r="6"/><circle cx="596" cy="710" r="7"/><circle cx="620" cy="720" r="6"/><circle cx="560" cy="730" r="6"/><circle cx="585" cy="748" r="6"/><circle cx="640" cy="690" r="5"/><circle cx="770" cy="600" r="6"/><circle cx="790" cy="620" r="5"/></g>
<!-- tree1 -->
<path d="M255 300 L262 200 L240 160 L250 156 L268 186 L290 150 L300 156 L278 204 L282 300 Z" fill="#8a6a4a"/>
<path d="M240 300 L270 286 L300 304 L275 296 L270 330 L262 298 Z" fill="#7a5c40"/>
<path d="M180 150 C160 120 180 80 215 75 C230 45 290 40 310 70 C345 75 360 115 340 140 C350 170 320 200 290 190 C270 210 225 205 215 190 C190 195 170 175 180 150 Z" fill="#6fb94a"/>
<path d="M200 120 C215 100 250 100 262 118 C280 100 320 106 326 130 C300 124 280 134 270 148 C250 132 220 130 200 120 Z M196 160 C220 150 250 156 262 172 C280 160 316 160 330 172 C310 190 280 192 266 184 C246 196 212 190 196 160 Z" fill="#8fd060" opacity="0.8"/>
<!-- tree2 -->
<path d="M535 280 L538 180 L556 180 L558 280 Z" fill="#7a5c40"/>
<path d="M480 120 C470 80 500 50 535 52 C570 40 610 70 608 105 C620 140 600 175 570 176 C545 195 505 190 495 165 C475 155 472 135 480 120 Z" fill="#7cc320"/>
<path d="M495 165 C505 190 545 195 570 176 C590 176 606 160 610 140 C590 160 540 176 495 165 Z" fill="#5fa012"/>
<g fill="#f39a1e"><circle cx="530" cy="72" r="8"/><circle cx="572" cy="76" r="8"/><circle cx="500" cy="100" r="7"/><circle cx="562" cy="110" r="8"/><circle cx="600" cy="118" r="7"/><circle cx="506" cy="148" r="7"/><circle cx="540" cy="142" r="8"/><circle cx="576" cy="156" r="7"/></g>
<!-- tomato bushes right -->
<use href="#bush" x="630" y="300" transform="translate(630 300) scale(1.0 1.1) translate(-630 -300)"/>
<use href="#bush" x="690" y="310"/>
<path d="M650 150 L655 300" stroke="#3f9d4a" stroke-width="5"/>
<g fill="#e4502a"><circle cx="600" cy="205" r="9"/><circle cx="622" cy="232" r="10"/><circle cx="650" cy="185" r="10"/><circle cx="655" cy="220" r="8"/><circle cx="715" cy="230" r="9"/><circle cx="670" cy="250" r="8"/></g>
<path d="M690 180 C700 170 716 172 722 186 C726 200 716 212 704 210 C692 206 686 192 690 180 Z" fill="#a0522d"/>
<!-- shadows on ground -->
<ellipse cx="265" cy="310" rx="60" ry="18" fill="#6fae74" opacity="0.6"/>
<ellipse cx="560" cy="285" rx="50" ry="16" fill="#6fae74" opacity="0.6"/>
<!-- center bed -->
<ellipse cx="447" cy="430" rx="112" ry="66" fill="#a58a68"/>
<path d="M335 380 L335 430 C345 470 395 496 447 496 C500 496 550 470 559 430 L559 380 C550 420 500 446 447 446 C395 446 345 420 335 380 Z" fill="#b39a78"/>
<ellipse cx="447" cy="380" rx="112" ry="66" fill="#8a7458"/>
<path d="M340 372 C360 340 400 330 430 360 C400 360 370 380 352 410 Z M556 372 C536 340 500 330 468 360 C500 362 526 384 542 412 Z M380 420 C400 380 440 370 450 340 C470 380 500 400 520 420 C490 400 470 400 450 430 C430 400 410 404 380 420 Z" fill="#5aa84a"/>
<path d="M360 240 C390 220 420 230 440 250 C470 226 510 226 540 250 C550 300 520 350 450 372 C390 350 352 300 360 240 Z" fill="#3f9d4a"/>
<path d="M420 180 L424 260 M520 196 L516 260" stroke="#3f9d4a" stroke-width="8" stroke-linecap="round"/>
<g stroke="#d6312c" stroke-width="8" stroke-linecap="round"><path d="M384 272 L384 300"/><path d="M402 290 L400 320"/><path d="M424 300 L420 340"/><path d="M446 320 L444 360"/><path d="M462 300 L460 340"/><path d="M484 270 L484 300"/><path d="M500 290 L498 320"/><path d="M522 250 L526 290"/></g>
<!-- front tomato plant -->
<path d="M385 500 C380 470 400 440 436 436 C470 440 492 470 486 500 C470 530 400 530 385 500 Z" fill="#3f9d4a"/>
<g fill="#e4502a"><circle cx="404" cy="462" r="9"/><circle cx="452" cy="444" r="10"/><circle cx="430" cy="490" r="10"/><circle cx="462" cy="482" r="8"/></g>
<!-- rock & shovel -->
<path d="M566 362 C580 340 610 338 622 356 C626 372 610 384 590 386 C574 384 564 374 566 362 Z" fill="#8a8a80"/>
<path d="M610 340 L640 320 L670 336 L640 352 Z" fill="#6a6a60"/>
<!-- cabbages -->
<use href="#cab" transform="translate(196 326) scale(0.8)"/>
<use href="#cab" transform="translate(214 522) scale(0.8)"/>
<use href="#cab" transform="translate(434 590) scale(1.08)"/>
<use href="#cab" transform="translate(714 530) scale(1.08)"/>
<!-- pea plant -->
<path d="M578 640 L580 470" stroke="#3f9d4a" stroke-width="6"/>
<path d="M580 600 C550 590 530 570 520 540 C546 546 566 560 580 580 C560 540 556 500 566 470 C584 490 592 520 588 556 C600 520 620 500 646 494 C644 530 624 560 590 580 C612 574 634 578 650 590 C630 606 604 608 580 600 Z" fill="#3f9d4a"/>
<!-- right tall bush -->
<path d="M800 520 L796 340" stroke="#3f9d4a" stroke-width="6"/>
<path d="M796 470 C770 460 756 436 754 410 C774 416 788 430 796 446 C780 410 776 370 786 330 C806 356 812 390 806 430 C818 400 836 380 860 372 C860 404 844 432 812 450 C832 446 850 450 862 462 C844 478 818 480 796 470 Z" fill="#3f9d4a"/>
<!-- flowers -->
<g fill="#fff"><circle cx="640" cy="438" r="12"/><circle cx="690" cy="456" r="14"/><circle cx="754" cy="472" r="11"/><circle cx="652" cy="470" r="9"/><circle cx="292" cy="562" r="14"/><circle cx="580" cy="436" r="7"/></g>
<g fill="#e8c83a"><circle cx="640" cy="438" r="4.5"/><circle cx="690" cy="456" r="5"/><circle cx="754" cy="472" r="4"/><circle cx="292" cy="562" r="5"/></g>
<!-- man left -->
<path d="M92 410 L88 500 L106 504 L110 440 L116 504 L134 500 L128 410 Z" fill="#3f7fbf"/>
<path d="M84 344 L130 344 L134 412 L86 412 Z" fill="#3f7fbf"/>
<path d="M80 342 C90 334 124 334 134 342 L142 400 L132 404 L126 360 L90 360 L84 392 L74 388 Z" fill="#f0703a"/>
<circle cx="106" cy="322" r="14" fill="#e9b08a"/>
<path d="M92 316 C94 302 118 302 120 316 L116 312 L96 312 Z" fill="#6a4028"/>
<path d="M96 326 C100 338 112 338 116 326 Z" fill="#6a4028"/>
<path d="M86 500 L108 504 L106 514 L88 512 Z M116 504 L136 500 L138 510 L118 514 Z" fill="#2a2420"/>
<!-- watering can -->
<path d="M140 450 L184 436 L192 480 L150 494 Z" fill="#5a9ad6"/>
<path d="M186 448 L214 458 L210 468 L188 462 Z" fill="#5a9ad6"/>
<path d="M150 440 C150 418 180 414 186 434" stroke="#5a9ad6" stroke-width="5" fill="none"/>
<!-- woman center -->
<path d="M318 270 L316 378 L332 380 L336 300 L342 380 L352 378 L352 270 Z" fill="#3f7fbf"/>
<path d="M316 214 L352 214 L354 280 L316 280 Z" fill="#3f7fbf"/>
<path d="M310 214 C318 208 350 208 358 214 L360 250 L350 250 L348 230 L320 230 L318 250 L308 250 Z" fill="#f0703a"/>
<circle cx="334" cy="194" r="13" fill="#e9b08a"/>
<path d="M320 196 C318 176 350 174 350 196 L352 226 L344 226 L344 192 L324 192 Z" fill="#7a4a2a"/>
<path d="M296 236 C300 222 330 222 334 240 C332 262 300 262 296 236 Z" fill="#d8703a"/>
<circle cx="314" cy="230" r="13" fill="#6fc03a"/>
<!-- man right bending -->
<path d="M724 320 L700 400 L716 406 L740 350 L744 404 L758 402 L756 316 Z" fill="#3f7fbf"/>
<path d="M700 270 C720 262 748 280 754 320 L724 330 L700 300 L672 334 L664 326 Z" fill="#f0703a"/>
<circle cx="688" cy="264" r="13" fill="#e9b08a"/>
<path d="M676 258 C680 246 698 246 702 258 Z" fill="#4a2a18"/>
<path d="M694 400 L718 408 L714 416 L692 410 Z M730 404 L756 402 L756 412 L732 412 Z" fill="#2a2420"/>
<path d="M664 328 L610 350" stroke="#8a6a4a" stroke-width="4"/>
</g>

</g>

<g id="arrows" fill="none" stroke="#000" stroke-width="3.6" stroke-linecap="round" stroke-linejoin="round">
<path d="M403.5 278.3 L505.5 279.6 M497.5 273 L505.8 279.6 L497.5 286.2"/>
<path d="M759.5 281.1 L870.5 282.5 M862.3 276 L870.8 282.5 L862.3 289"/>
<path d="M1006.8 396 L1007.9 470.6 M1001.7 462.6 L1007.9 470.8 L1014.4 462.6"/>
<path d="M870 638.3 L756 638.3 M764 632.2 L755.6 638.3 L764 644.4"/>
<path d="M532.3 636.9 L418.3 636.9 M426.3 630.8 L418 636.9 L426.3 643"/>
<path d="M274.3 498.6 L274.3 399.6 M268.4 407.5 L274.3 399.3 L280.2 407.5"/>
</g>

</svg>
</body>
</html>
